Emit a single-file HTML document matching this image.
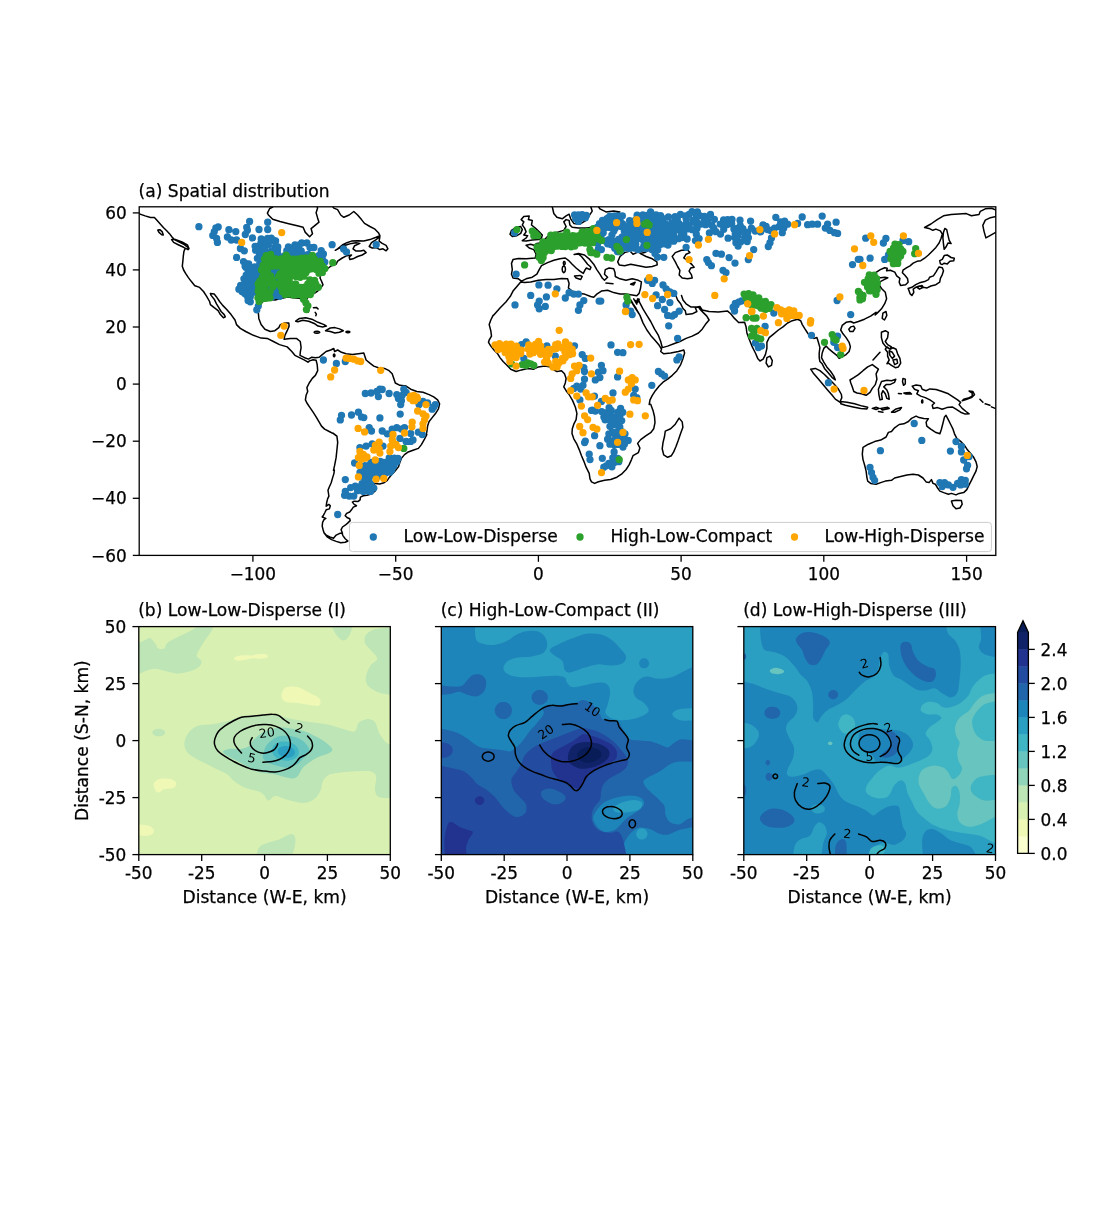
<!DOCTYPE html>
<html lang="en"><head><meta charset="utf-8"><title>Figure</title>
<style>html,body{margin:0;padding:0;background:#fff}svg{display:block}</style></head>
<body>
<svg width="1106" height="1229" viewBox="0 0 1106 1229" font-family='"DejaVu Sans", "Liberation Sans", sans-serif' fill="#000">
<rect width="1106" height="1229" fill="#fff"/>
<clipPath id="mc"><rect x="139.2" y="206.8" width="856.6" height="348.6"/></clipPath>
<g clip-path="url(#mc)">
<g fill="none" stroke="#000" stroke-width="1.5" stroke-linejoin="round" stroke-linecap="round">
<path d="M138.2,213.5L145.1,215.9L150.5,217.5L154.4,217.5L156.7,220.1L159.8,223.6L163.6,227.8L166.7,230.8L169.7,233.9L172,237L174.4,239.6L179.3,242L184.3,244.7L187.9,247.3L188.5,249.3L185.1,248.5L183.9,251.6L183.3,256.2L182.8,261.6L182.3,266.2L183.6,270L185.9,273.9L188.2,277.4L191,281.1L193.6,284.2L194.9,285.9M171.6,239.6L175.9,239.6L182,241.9L187.4,244.8L189,248.5L187.9,249.7L183.6,247.3L178.2,244.7L173.6,242.4ZM157.8,230.1L159.8,229.7L162.1,231.6L163.3,235L161.7,234.7L159,232.4ZM195,285.8L199.6,287.4L203.5,291.5L206.5,296.1L209.6,301.5L210.4,304.6L214.2,307.7L218.1,310.7L220.4,314.6L223.4,317.7L225.3,316.9L224.2,314.6L221.1,311.5L218.8,307.7L216.5,303.8L214.2,299.2L211.1,295.4L210.4,293.5L214.2,294.1L216.5,296.9L219.6,301.5L222.7,305.4L226.5,309.2L231.1,314.6L235,320L236.5,324.6L240.3,328.4L245.7,331.5L253.4,335.3L261.1,338.1L267.2,338.4L273.4,341.5L279.5,344.6L287.2,346.9L291.8,351.5L294.9,355.3L299.5,357.6L304.1,359.9L308,362.2M308,311.5L305.7,304.6L303.4,298.4L301.1,298.4L293.4,297.7L287.2,296.9L281.1,298.4L274.9,300L268.8,299.2L262.6,301.5L259.6,306.1L258.3,312.3L258.8,318.4L261.1,324.6L264.9,329.2L270.3,331.5L274.9,330.7L278.8,327.6L280.3,324.6L284.9,323L288.8,323L289.1,326.1L287.2,330.7L284.9,335.3L284.1,339.2L290.3,338.4L296.4,338.4L300.3,341.5L301.1,347.6L300.3,352.2L300,355.3M295.7,321.2L299.5,318.4L305.7,317.7L311.8,319.2L318,322.3L324.1,324.6L326.4,326.1L322.6,326.9L318,326.1L314.9,323.8L308.7,321.2L302.6,320.3L298,321.8ZM325.6,330.7L330.3,328L334.9,327.6L339.5,328.9L343.3,330.7L339.5,332.3L334.9,333L330.3,331.5ZM319.7,332.3L318.8,333L316.9,333.3L314.9,333L314.1,332.3L314.9,331.5L316.9,331.2L318.8,331.5ZM349.9,332L349.3,332.5L347.9,332.7L346.5,332.5L345.9,332L346.5,331.4L347.9,331.2L349.3,331.4ZM313.4,307.7L316.4,307.4L318,308.9M315.2,312.3L316.4,314.1L315.8,315.7M272.7,207L269.7,208.5L267.4,213.1L268.4,215L272.7,219.3L280,221.5L288.7,223.7L297.3,225.8L303.1,227.3L305.3,232.4L309.6,236.7L312.5,233.8L311.1,228.7L315.4,225.1L319,222.2L317.6,217.9L316.1,212.7L317.6,208.1L316.4,205M331.5,205L333.8,208.1L337.6,209.6L340.7,215L343.8,217.3L349.2,215L353.8,211.5L357.6,215L361.5,219.6L364.5,223.4L369.9,226.5L374.5,228.8L378.4,232.7L379.9,235.7L376.1,237.3L369.9,239.6L363.8,241.1L357.6,240.7L351.5,241.1L346.9,242.7L342.3,245L337.6,248.8L335.3,250.3L340.7,247.3L345.3,245.3L351.5,243.4L356.1,242.7L359.9,243.4L354.6,245.7L353,248.8L356.1,251.1L360.7,251.1L363.8,250.3L366.1,252.6L362.2,255L357.6,256.5L353,258.8L349.9,259.6L349.2,257.3L351.5,255L346.9,255.7L342.3,258L337.6,261.1L336.1,264.2L331.5,265.7L328.4,268L325.4,270.3L323,272.6L320.7,274.9L320,278L321.5,281.1L323,284.9L320.7,288L317.7,291.1L313.1,294.1L308.4,296.5L306.1,300.3L307.7,304.9L309.2,309.5L308.1,312.3M369.2,246.5L371.5,242.7L376.1,239.6L379.9,236.5L379.1,241.1L382.2,243.4L386.1,245.3L387.9,248.8L386.1,250.8L383,248.8L379.9,249.6L376.1,247.7L372.2,248ZM300,355.4L304.6,357.7L308.5,359.1L311.8,357.2L315.4,357.7L319.2,357.2L322.3,354.6L326.1,351.5L330.7,350L333.8,348.5L334.6,351.5L337.7,350L341.5,352.3L346.1,353.8L352.3,354.6L358.4,353.8L363.8,353.1L364.6,355.4L366.1,360L369.9,363.1L373.8,366.1L378.4,367.7L384.5,368.4L389.1,370.7L392.2,373.8L393.8,378.4L395.3,383L399.9,385.3L406.1,386.1L410.7,389.2L416.8,391.5L423,392.3L429.1,394.6L433.7,396.9L437.6,399.9L439.6,403.8L438.3,409.2L435.3,413.8L432.2,417.6L429.1,421.5L427.6,426.1L426.8,432.2L425.7,436.8M334.9,355.4L334.7,356.3L334.1,356.8L333.6,356.3L333.4,355.4L333.6,354.4L334.1,354L334.7,354.4ZM308,362.3L309.5,360.9L313.1,359.7L316.1,360.3L317.2,364.6L317.7,370.7L315.4,375.4L312.3,378.4L309.2,383L306.9,387.6L307.7,391.5L306.1,395.3L305.4,399.9L306.9,403L310,407.6L313.1,412.2L316.1,416.9L319.2,422.2L321.5,426.1L324.6,429.1L329.2,431.5L333.8,433.8L336.1,435.6M333,433.1L336.9,436.1L337.7,442.3L336.9,450L336.1,457.7L334.6,465.4L333.5,470.3M426.8,434.6L424.5,439.2L421.4,444.6L418.4,448.4L413.7,450L407.6,452.3L404.5,454.6L401.4,458.4L399.9,462.3L398.4,466.9L395.3,470.7M334.4,470L333.9,473.6L332.5,478.1L331.2,482.7L329.4,486.7L328,490.3L328.5,493.5L328.9,496.2L327.6,498.9L326.7,502.5L326.2,506.2L328.9,504.4L330.3,505.7L329.4,508.9L326.2,509.8L324.9,512.5L323.5,515.2L322.2,517L325.8,518.4L324,519.7L322.6,522.4L322.2,526.1L323.1,529.7L324,532.8L326.2,535.1L329.8,536.9L333.5,538.3L336.2,535.1L339.8,533.3L342.5,533.3L341.1,529.7L342.5,527L345.2,525.2L347.9,522.9L350.2,520.6L349.7,518.8L347,517.5L345.2,515.7L346.6,513.4L349.7,512L351.5,509.8L353.3,507.1L356.5,505.7L354.2,504.4L352.4,502.1L354.2,501.2L357.9,501.6L360.1,499.8L360.4,497.1L363.3,495.8L366.9,495.3L371.4,494L375,491.2L376.4,488.1L374.6,485.4L372.3,482.7L375,483.6L379.6,484L384.1,482.7L387.3,480.4L389.1,477.7L391.3,475L394,472.3L395.8,470M324,532.8L327.1,536.9L331.6,539.6L336.2,541.4L340.7,542.8L345.2,542.3L347.9,541L345.2,538.7L342.9,535.6L342,533.3M510,234.2L511.5,230.4L516.1,227.3L520.7,226.5L522.3,229.6L520.7,233.4L516.9,235.7L512.3,236.5ZM523.8,216.5L529.2,216.1L528.4,219.6L532.3,220.4L531.5,225L535.3,228.1L539.2,231.9L542.3,235L541.5,238L538.4,239.6L532.3,240L526.1,241.1L522.3,240.7L526.1,238L527.6,235.7L523.8,235L526.1,231.9L524.6,228.1L522.3,225L523.8,221.9L521.2,219.6ZM636.8,295.7L632.2,294.9L626,294.1L619.9,294.1L613.7,292.6L607.6,290.3L601.4,291.1L596.8,294.1L593.7,297.2L590.7,296.5L584.5,294.1L578.4,293.4L572.2,291.1L568.4,288L569.1,283.4L567.6,278.8L561.5,278.5L553.8,279.5L546.1,279.5L538.4,280.3L530.7,281.9L524.6,282.6L520.7,281.9L516.9,286.5L513,291.1L510.7,295.7L506.1,301.8L500,308L493.8,315.1M526.1,245.3L530.7,244.2L533.8,245.3L536.9,243.4L541.5,242.7L544.6,239.6L547.6,236.5L552.2,233.4L558.4,231.9L563.8,230.4L566.1,226.5L563.8,221.9L566.1,219.6L569.1,220.4L569.9,225L572.2,227.3L578.4,228.1L586.1,228.1L592.2,227.3L596.8,228.1L599.1,225L599.9,221.1L603,218.8L606,216.5L609.1,214.5L615.3,214.2L619.9,211.9L613.7,211.1L606,211.9L599.9,208.8L598.4,206.5M526.1,245.3L529.2,248L533.8,249.6L536.1,254.2L535.3,258L526.1,258.8L518.4,258.5L513,259.6L511.5,263.4L512.3,269.6L511.5,274.2L513,278L518.4,278.8L521.5,281.1L526.1,278.8L532.3,277.2L536.9,274.2L539.2,269.6L541.5,265.7L547.6,262.6L553.8,260.3L559.9,258.8L565.3,258L568.4,260.3L572.2,264.2L576.1,268L579.9,271.1L583.3,273.4L584.8,270.3L586.4,268L589.9,269.6L591,267.3L587.6,264.2L584.5,260.3L581.4,256.5L578.4,253.9L574.1,254.5L578.4,253.4L584.5,255L589.1,258.8L593.7,264.2L596.8,269.6L599.9,274.2L602.2,278L604.5,280.3L607.6,277.2L604.5,274.2L605.3,269.6L609.1,268L613.7,268.8L615,272.6L615.3,276.5L619.9,278.8L626,280.3L632.2,278.8L638.3,280.3L641.4,281.9L640.6,288L639.1,293.4L636.8,295.7M574.5,276L579.9,275.4L582.2,276.5L580.7,279.5L576.1,278ZM565.5,269.2L565,271.6L563.8,272.6L562.6,271.6L562.1,269.2L562.6,266.9L563.8,265.9L565,266.9ZM565.2,263.1L564.9,264.3L564.2,264.8L563.6,264.3L563.3,263.1L563.6,261.9L564.2,261.4L564.9,261.9ZM606,283.1L613,283.7M630.6,284.2L635.2,282.2L633.7,284.9ZM552.2,206.5L553.8,213.5L556.9,217.3L562.2,218.8L566.1,215.8L569.1,214.2L570.7,218.8L573.8,223.4L579.9,224.2L586.1,220.4L589.1,215.8L592.2,211.1L590.7,206.5M627.6,295.7L631.4,301.8L635.2,308L639.9,315.1M633.7,298.8L636.8,304.1L637.5,299.1M617.7,261.9L620,256.5L624.6,252.6L630,251.1L633,254.2L638.4,251.9L644.6,250.3L650,249.3L644.6,252.6L640,253.4L646.1,256.5L652.3,258.8L656.9,261.9L657.2,264.9L652.3,266.5L646.1,267.3L638.4,265.7L630.7,264.2L624.6,265.7L619.2,264.9ZM672.2,256.5L675.3,252.6L681.5,250.3L687.6,249.9L689.9,252.6L686.1,254.2L683.8,258L688.4,261.1L692.2,264.9L694.1,267.3L690.7,268L689.1,271.1L691.5,274.9L692.2,278L687.6,278.8L682.2,278L679.2,274.9L679.9,270.3L677.6,266.5L675.3,261.9ZM493.1,315.4L490.8,320L489.2,324.6L490.8,330.7L491.5,336.1L489.2,340L488.5,342.3L490.8,346.1L494.6,350.7L497.7,353.8L500,357.6L503.1,361.5L506.9,365.3L510.7,369.2L516.1,371.5L521.5,369.9L527.6,368.4L533.8,369.2L538.4,366.9L544.6,366.1L550.7,366.9L553.8,369.9L556.9,371.5L561.5,370.7L564.5,373.8L566.1,378.4L565.3,383L563.8,386.8L566.1,390.7L569.1,394.5L572.2,399.9M572.3,399.9L575.4,407.3L576.9,413.4L576.1,419.6L573.8,424.2L572.3,428.8L572,433.4L573.8,438.8L576.9,444.2L579.2,449.6L581.5,455.7L583.8,461.1L586.1,467.2L589.2,473.4L590,478.8L591.5,481.8L594.6,483.4L598.4,481.8L604.6,480.3L610.7,479.5L616.9,477.2L621.5,474.2L626.1,469.5L629.1,464.9L631.5,459.6L633,455.7L638.4,452.6L639.9,448L637.6,443.4L640.7,439.6L646.1,435.7L650.7,432.7L653.7,428.8L655,422.7L654.5,416.5L653,410.4L650.7,404.2M679.1,418.1L682.2,421.9L682.9,427.3L680.6,433.4L678.3,440.3L676,446.5L673.7,451.9L671.4,455.7L667.6,457.3L663.7,454.9L662.2,448.8L663,442.6L664.5,436.5L665.3,431.1L670.6,428.8L675.3,424.2ZM630.8,300L633.1,303.8L636.1,308.5L640,315.4L643.1,323.1L646.9,330L650.7,335.4L655.4,340.7L659.2,345.3L661.5,349.2L660.7,351.5L663.8,353.8L670.7,353L678.4,351.5L683.8,350L684.6,353L683,358.4L680.7,364.6L676.9,370.7L672.3,375.3L667.6,379.2L663,382.2L659.2,386.1L655.4,390.7L652.3,395.3L650,399.9L649.2,404.5M634.6,300L637.7,302.3L639.2,299.2M638.1,298.8L640,303.1L643.1,309.2L646.9,315.4L650.7,321.5L654.6,329.2L658.4,335.4L660.7,341.5L662.3,347.6L667.6,346.1L673.8,343.8L679.9,341.5L686.1,338.4L692.2,336.1L698.4,333L702.2,329.2L705.3,324.6L709.1,320L706.8,316.1L703.8,313.1L699.9,309.2L698.4,306.9L695.3,307.7L696.9,311.5L692.2,313.8L686.1,314.6L685.3,310.8L683,308.5L680.7,303.8L677.6,300L676.1,296.2L673,293.9L670,294.6M681.5,295.4L683,300L686.1,303.8L690.7,306.9L696.9,306.9L699.9,306.5L702.2,310L709.1,311.5L718.4,312L727.6,311.1L730.7,313.8L734.5,318.4L738.4,322.3M738.5,322.6L744.6,322.3L746.1,326.9L746.9,333L749.2,339.2L752.3,346.9L755.4,353L757.7,358.4L760,361L763.1,359.2L765.4,354.6L766.9,348.4L766.9,342.3L769.2,337.6L773.8,333.8L778.4,330L783,326.9L787.6,323L792.3,320.7L797.6,319.2L800.7,320.7L802.3,324.6L804.6,328.4L807.6,333L809.9,336.1L813.8,338.4L816.9,337.6L818.4,342.3L819.9,347.6L819.2,353L819.2,357.6L819.9,361.5L822.2,363.8L824.5,368.4L828.4,373L832.2,377.6L835.3,379.9L833.8,376.1L830.7,371.5L826.8,366.9L823.8,362.2L821.5,357.6L822.2,353L823.8,348.4L826.1,346.1L829.1,349.2L833,352.3L836.8,355.3L839.1,358.4L842.2,356.9L846.1,354.6L849.1,351.5L850.4,346.9L849.1,342.3L846.1,337.6L843,333.8L840.7,330L842.2,325.4L846.1,322.3L850.7,321.5L853.7,323L858.4,321.5L864.5,319.2L870.6,316.1L876,312.3M766.9,357.6L770,356.1L772.3,360.7L771.5,365.3L768.4,366.9L766.1,363ZM810.7,369.2L815.3,368.4L819.9,370.7L824.5,374.5L829.1,379.1L833.8,383.8L838.4,389.1L841.4,394.5L841.8,397.6L839.9,402.2L835.3,399.1L832.2,395.3L827.6,389.9L823,384.5L818.4,379.1L813.8,373.8ZM850.7,326.9L853.7,326.1L855,328.4L853,331.5L849.9,331.5L848.8,329.2ZM882.9,313.1L886,311.5L886.8,315.4L884.5,320L882.2,318.4ZM924.6,227.5L930.9,224L937.2,219.6L943.5,215.8L951.1,214.5L958.7,214.1L966.3,213.6L971.4,215.8L979,214.5L980.3,211.3L985.3,208.8L991.6,208.2L996.1,210.1L996.1,216.4L990.4,217.7L985.3,220.2L982.8,225.3L984.1,231.6L985.9,237.9L990.4,235.4L996.1,232.2M924.6,227.5L929,228.4L932.8,230.3L935.9,229.1L940.4,230.9L942.3,234.1L941,238.5L939.1,243L935.9,247.4L932.2,251.2L928.4,255L924.6,258.2L920.8,260.7L917,261.3L913.2,263.2L910,265.8L906.8,267.7L903,270.2L902.4,272.7L904.9,275.3L907.5,278.4L908.1,282.2L905.6,284.7L900.5,285.4L899.2,282.2L899.9,278.4L896.7,275.9L894.8,272.1L890.4,270.2L886.6,270.8L887.2,268.3L884.7,267.7L880.3,269.6L876.5,272.1L874.6,273.4L876.5,275.9L880.3,277.8L884.7,277.2L887.8,277.8L884.1,279.7L880.3,281.6L879,284.7L881.5,288.5L885.3,292.3L886.6,298.7L884.7,303.7L881.5,308.8L877.7,312.6L875.2,315M944.8,228.4L946.7,229.7L948,235.4L949.2,240.4L951.1,243.6L948,243L946.1,246.8L944.2,249.3L943.5,244.2L942.9,237.9L943.5,232.2ZM939.7,260.7L942.3,259.4L944.2,255.6L947.3,255L951.1,257.5L954.3,258.2L953.7,260.7L949.9,261.3L947.3,263.9L944.2,263.2L942.3,264.5L940.4,263.9ZM939.1,267L942.3,267.7L943.5,270.8L942.3,274.6L940.4,278.4L939.7,282.2L935.9,284.7L930.9,286L927.1,287.9L923.3,287.3L919.5,286L915.7,287.3L913.2,289.2L913.8,292.3L911.9,295.5L910,293.6L908.7,289.8L908.1,288.5L911.9,287.3L915.7,284.7L919.5,282.8L924.6,281.6L928.4,279.7L929.6,277.2L933.4,275.9L935.9,272.1L937.8,268.9ZM917,287.3L922,285.4L923.3,287.3L919.5,289.2ZM850,380L853.8,377.7L858.4,374.6L863,370.7L867.7,366.9L872.3,364.6L875.3,366.9L878.4,369.2L876.1,373.8L876.9,379.2L875.3,384.6L872.3,388.4L870,392.3L866.1,395.3L861.5,393.8L856.9,393L853.8,391.5L852.3,386.9L850.8,383ZM881.5,381.5L886.9,380.3L891.5,380.7L895.8,379.2L894.6,382.3L889.9,384.6L886.1,384.6L883.8,386.9L886.9,390L888.4,393.8L889.2,399.2L886.9,398.4L885.3,393.8L883,390.7L881.5,393.8L882.3,399.2L880,399.9L878.9,394.6L878.4,389.2L880,385.3ZM886.9,346.9L889.9,349.2L893,347.7L896.1,349.2L897.6,353.8L899.9,358.4L900.7,363.1L898.4,366.9L895.3,367.7L891.5,365.4L888.4,363.1L886.9,363.8L889.2,360L887.6,356.1L887.6,352.3L885.3,349.2ZM889.2,350.8L892.3,352.3L894.6,356.1L892.3,358.4L889.9,355.4ZM893,360L896.9,359.2L897.6,363.1L894.6,364.6ZM873,360L880,352.3M840.8,401.5L846.9,402.3L854.6,403.8L862.3,406.1L867.7,407.3L866.9,408.9L860.7,408.4L853.1,406.9L845.4,405.3L840.8,403.8ZM872.3,408.4L876.1,407.3L879.2,408.4L876.1,409.5ZM880.7,408.4L887.6,407.3L889.2,408.4L882.3,409.9ZM878.4,411.5L883,412.2M891.5,412.2L896.1,408.9L901.5,407.6L899.9,409.9L894.6,412.2ZM903,378.4L905.3,379.2L905.3,383.8L903.5,385.3L902.5,381.5ZM898.4,393.5L901.5,393.8M903.8,393L909.9,392.6L911.5,394.1L906.1,394.1ZM922.8,401.5L922.7,402.6L922.2,403L921.8,402.6L921.6,401.5L921.8,400.4L922.2,399.9L922.7,400.4ZM912.2,386.1L916.1,385L920.7,385.8L922.2,389.2L926.1,390.7L929.9,388.9L936.1,389.5L942.2,391.5L948.4,393.8L953,396.9L957.6,399.9L960.6,402.3L959.1,404.6L962.2,408.4L966,411.5L969.1,413.8L965.3,414.1L960.6,412.2L956,409.2L952.2,406.9L946.8,407.6L942.2,409.2L937.6,407.6L933,408.4L932.2,405.3L934.5,403L929.9,399.9L925.3,397.6L920.7,396.1L916.8,393.8L918.4,390.7L914.5,389.2ZM962.2,400.7L966.8,399.2L971.4,397.6L974.5,394.6L972.9,391.5L969.1,391L972.2,393L972.2,396.1L968.3,398.1L963.7,399.2ZM979.9,399.2L982.9,402.3M985.2,403.8L989.9,405.3M991.4,406.9L995.2,408.4M863,447.3L868.4,444.2L874.6,441.6L880.7,440.1L886.1,437L888.4,432.4L891.5,431.5L894.6,427.8L899.2,424.5L903.8,423.8L908.4,421.5L911.5,418.4L916.1,416.1L919.1,417.6L923.8,418.4L928.4,418.7L926.1,422.2L926.8,426.1L930.7,429.2L935.3,432.2L939.9,433.8L941.4,429.2L943,423L944.5,416.9L946,415.3L948.4,419.9L950.7,424.5L953,429.2L954.5,433.8L956.8,438.4L960.6,441.4L964.5,445.3L967.6,450.1L970.6,453.4L973.7,457.3L976,461.9L977.2,466.5L976,471.1L973.7,475.7L971.4,480.3L969.1,484.9L966.8,489.6L963.7,492.6L959.1,493.4L956,494.9L951.4,493.4L948.4,494.2L943.7,492.6L939.9,491.1L937.6,488L935.3,484.2L933,483.4L931.4,479.6L929.1,482.6L926.1,481.9L923,478L918.4,475L913,474.2L906.9,475L900.7,476.5L894.6,478L891.5,480.3L885.3,481.1L880.7,482.6L876.1,484.2L870.7,483.4L867.7,481.1L866.9,477.3L866.1,471.1L864.6,465L863,459.6L862.3,454.2ZM951.4,501.1L956,500.3L961.4,500.6L962.2,504.2L959.9,508L956,508.8L953,505.7ZM881.4,332.3L885.3,330.7L888.3,332.3L887.6,337.6L885.3,341.5L887.6,344.6L891.4,346.9L889.9,349.2L886,346.9L882.9,343L881.4,337.6Z"/>
</g>
<path d="M198.9,226.7h0M215.9,227.8h0M218.2,227.0h0M214.3,231.6h0M212.8,235.4h0M216.6,238.5h0M217.4,242.4h0M228.9,229.7h0M235.8,231.6h0M227.4,237.0h0M231.2,240.0h0M236.6,240.0h0M240.4,248.5h0M244.3,250.8h0M236.6,257.4h0M243.5,261.6h0M245.1,266.2h0M238.9,289.2h0M242.0,291.5h0M245.1,293.8h0M249.6,221.5h0M246.7,227.3h0M247.4,230.2h0M245.3,234.5h0M252.5,237.9h0M259.0,229.5h0M267.7,222.2h0M267.7,229.5h0M261.2,238.9h0M271.3,238.1h0M275.6,241.0h0M332.1,244.7h0M343.6,249.0h0M346.5,251.9h0M376.2,244.7h0M256.8,309.8h0M258.3,306.1h0M250.3,301.8h0M249.6,298.9h0M267.6,238.4h0M261.1,242.6h0M266.3,243.0h0M272.5,240.6h0M275.4,241.0h0M301.7,242.9h0M306.9,243.0h0M255.1,246.3h0M259.5,245.3h0M264.9,246.3h0M268.3,244.9h0M274.9,247.5h0M277.8,246.9h0M288.4,246.8h0M295.0,244.8h0M299.3,244.8h0M310.0,247.4h0M313.9,247.5h0M255.6,250.2h0M261.7,249.5h0M265.2,251.4h0M270.9,251.7h0M277.5,250.1h0M286.8,250.7h0M291.6,250.7h0M297.7,250.4h0M301.2,251.0h0M321.2,250.6h0M259.3,253.5h0M264.3,254.6h0M274.5,255.4h0M277.6,253.5h0M284.4,256.0h0M288.2,254.6h0M294.2,254.2h0M298.6,254.2h0M303.6,255.0h0M308.4,254.4h0M319.1,255.4h0M323.4,254.0h0M257.3,258.3h0M260.6,258.9h0M277.4,258.9h0M282.4,258.1h0M295.7,258.0h0M301.5,258.2h0M317.3,259.5h0M322.3,258.6h0M259.8,262.8h0M324.8,262.1h0M244.9,262.8h0M248.7,263.8h0M274.3,264.0h0M282.3,263.4h0M245.7,267.3h0M250.3,267.2h0M254.8,266.9h0M259.8,266.6h0M263.1,266.6h0M267.6,266.8h0M271.4,267.5h0M275.5,267.2h0M280.7,266.5h0M248.1,270.5h0M252.2,270.7h0M256.2,271.1h0M261.8,271.5h0M265.7,271.5h0M268.7,270.4h0M274.5,271.2h0M277.8,271.5h0M282.3,271.3h0M246.2,275.1h0M250.3,273.6h0M254.1,273.9h0M259.5,274.2h0M262.9,273.8h0M268.2,274.3h0M271.2,273.7h0M275.1,273.9h0M280.3,273.8h0M243.9,278.8h0M247.9,278.1h0M253.2,277.9h0M257.7,278.0h0M260.7,277.9h0M264.6,277.9h0M269.1,278.7h0M274.2,278.0h0M277.2,277.6h0M281.7,277.6h0M247.1,281.8h0M251.4,281.5h0M255.5,281.9h0M259.5,282.1h0M263.2,281.0h0M267.0,282.3h0M272.3,282.3h0M275.6,281.9h0M280.5,281.9h0M240.6,285.4h0M244.6,285.6h0M248.1,286.0h0M253.4,284.6h0M257.7,286.0h0M261.4,284.6h0M266.0,284.7h0M270.3,285.6h0M273.0,284.8h0M278.1,285.4h0M282.5,286.0h0M242.9,288.2h0M247.0,288.3h0M251.1,289.4h0M255.4,289.0h0M259.6,288.5h0M263.5,288.7h0M268.0,289.4h0M271.6,289.0h0M275.1,288.2h0M280.2,288.9h0M243.7,292.4h0M248.9,292.6h0M251.9,293.1h0M257.4,291.9h0M261.2,292.4h0M265.8,292.3h0M269.1,292.6h0M274.5,291.9h0M277.3,292.8h0M282.7,292.6h0M247.0,295.7h0M250.3,296.8h0M267.4,296.0h0M271.7,296.9h0M276.2,295.4h0M279.7,296.3h0M248.1,300.4h0M323.4,360.0h0M336.4,363.4h0M345.3,361.5h0M365.3,393.5h0M371.0,393.0h0M376.9,391.5h0M379.9,389.2h0M382.2,389.5h0M378.4,396.6h0M389.1,393.5h0M396.8,394.6h0M398.4,398.4h0M401.4,400.7h0M400.7,404.6h0M403.8,389.2h0M406.1,392.3h0M402.2,395.3h0M341.5,415.3h0M340.3,419.9h0M351.5,415.0h0M358.4,412.2h0M361.5,416.9h0M363.8,417.6h0M379.9,417.9h0M400.2,414.1h0M369.2,427.6h0M371.5,431.0h0M382.2,431.0h0M387.3,433.8h0M392.2,429.1h0M396.8,427.6h0M401.4,429.1h0M404.5,427.6h0M410.7,433.5h0M418.4,432.2h0M422.2,434.5h0M423.0,401.5h0M427.6,403.0h0M419.1,404.6h0M432.2,409.2h0M435.3,404.6h0M433.7,406.9h0M399.9,438.4h0M406.1,441.4h0M410.7,441.4h0M366.1,446.1h0M372.2,443.8h0M383.0,446.1h0M359.9,447.6h0M389.2,457.8h0M394.4,458.1h0M398.0,458.4h0M371.0,462.5h0M375.6,461.5h0M380.2,461.3h0M383.5,462.3h0M387.3,461.8h0M391.3,462.1h0M396.6,462.0h0M365.0,465.7h0M369.0,465.4h0M373.7,466.2h0M377.3,465.8h0M380.8,465.8h0M385.9,466.3h0M390.4,465.2h0M393.9,465.8h0M361.9,469.6h0M366.2,468.7h0M370.8,469.7h0M374.5,469.1h0M379.5,469.8h0M384.1,469.7h0M387.5,469.0h0M391.8,469.8h0M360.0,472.3h0M364.3,472.8h0M369.1,472.4h0M372.3,472.6h0M377.1,472.9h0M382.2,473.1h0M385.7,473.0h0M390.2,472.1h0M362.0,476.6h0M366.1,475.7h0M370.5,475.9h0M375.0,475.7h0M378.6,475.9h0M365.3,480.8h0M368.9,480.0h0M362.2,483.5h0M366.3,484.1h0M371.1,484.1h0M359.8,487.0h0M364.3,487.6h0M369.6,487.2h0M373.8,488.1h0M363.3,491.4h0M367.2,490.9h0M370.5,491.4h0M345.3,479.6h0M354.6,463.0h0M337.7,514.5h0M350.7,487.6h0M355.3,486.1h0M345.3,491.5h0M344.6,495.3h0M349.2,496.1h0M353.8,496.1h0M357.6,490.7h0M413.0,440.0h0M574.6,214.9h0M578.6,215.0h0M582.2,214.7h0M586.4,215.4h0M575.7,218.7h0M580.4,218.3h0M585.4,217.7h0M578.5,221.4h0M516.1,274.2h0M598.4,248.8h0M601.4,249.6h0M538.9,284.9h0M548.1,285.2h0M556.9,288.8h0M530.7,295.4h0M546.4,296.9h0M515.0,304.9h0M539.2,301.1h0M537.6,304.9h0M545.3,306.4h0M539.2,308.8h0M569.1,292.6h0M565.3,298.0h0M573.8,294.1h0M578.4,294.1h0M583.8,300.6h0M579.9,304.9h0M578.4,310.3h0M599.1,301.1h0M514.6,232.7h0M650.6,211.8h0M609.8,216.1h0M615.0,215.8h0M618.7,216.0h0M622.4,215.8h0M637.1,215.2h0M642.8,215.0h0M646.4,215.3h0M651.4,214.6h0M656.1,215.0h0M660.6,215.7h0M602.5,220.3h0M606.9,218.6h0M611.1,220.4h0M617.1,220.3h0M620.2,220.4h0M629.6,220.7h0M635.6,220.0h0M639.4,219.8h0M645.1,219.7h0M649.4,220.1h0M654.1,218.9h0M658.5,219.9h0M663.1,218.7h0M599.5,223.7h0M602.9,223.5h0M608.5,222.6h0M612.4,224.9h0M617.5,223.1h0M622.7,223.9h0M632.6,224.5h0M636.4,223.2h0M642.5,224.8h0M647.4,223.6h0M652.6,223.1h0M655.7,223.6h0M662.8,224.2h0M665.9,224.1h0M672.2,223.0h0M597.2,227.4h0M601.1,227.2h0M605.8,227.4h0M610.1,227.5h0M615.1,228.4h0M621.2,226.5h0M626.4,227.0h0M630.5,227.9h0M634.9,227.2h0M640.0,226.8h0M645.9,226.8h0M650.6,227.0h0M654.0,227.5h0M658.1,226.8h0M663.8,227.6h0M669.9,229.0h0M598.1,232.0h0M603.2,232.7h0M613.8,231.0h0M624.3,231.0h0M628.1,231.6h0M632.5,232.7h0M637.0,232.5h0M643.0,233.1h0M647.4,233.0h0M652.0,232.1h0M657.2,232.8h0M662.8,230.9h0M665.6,232.0h0M672.1,232.0h0M601.2,235.0h0M611.9,235.1h0M622.2,236.9h0M625.5,236.4h0M631.4,236.7h0M634.8,236.8h0M639.1,235.6h0M646.2,236.0h0M649.1,236.8h0M654.4,234.8h0M658.1,235.5h0M663.7,237.2h0M668.3,237.0h0M600.2,240.0h0M605.4,240.9h0M608.9,239.6h0M613.6,241.3h0M618.6,239.4h0M623.0,240.2h0M627.3,240.4h0M631.7,241.1h0M636.9,239.2h0M642.8,239.7h0M648.3,240.2h0M652.2,241.1h0M656.2,240.9h0M662.1,240.1h0M667.7,239.0h0M597.8,243.5h0M607.6,243.8h0M611.3,244.7h0M615.5,244.5h0M619.7,244.3h0M626.4,244.0h0M629.8,243.2h0M635.8,244.2h0M643.9,245.5h0M650.8,245.2h0M655.4,244.9h0M659.9,244.8h0M664.4,243.8h0M668.0,245.0h0M614.7,248.3h0M619.3,248.6h0M623.5,248.3h0M629.3,248.4h0M634.1,248.1h0M638.2,249.6h0M643.0,248.2h0M646.2,248.5h0M651.9,249.4h0M657.7,249.8h0M617.4,251.6h0M619.9,251.8h0M655.0,253.5h0M657.5,257.1h0M692.0,211.7h0M697.4,212.0h0M675.1,216.7h0M680.5,214.4h0M685.3,216.0h0M689.1,214.3h0M696.3,215.6h0M699.4,215.4h0M704.5,216.5h0M710.5,214.4h0M677.3,219.2h0M686.2,218.9h0M693.3,220.2h0M696.3,220.6h0M704.2,219.8h0M707.5,220.2h0M714.4,219.3h0M723.6,219.9h0M727.6,219.6h0M732.0,219.4h0M740.0,220.2h0M673.4,223.3h0M679.0,223.6h0M686.1,223.7h0M689.3,224.7h0M696.4,223.8h0M701.1,224.0h0M705.6,224.7h0M711.8,225.2h0M720.3,224.1h0M727.2,224.5h0M731.7,223.8h0M740.3,225.7h0M676.4,229.4h0M681.4,228.1h0M687.4,228.9h0M692.3,229.7h0M697.0,228.4h0M713.7,227.8h0M723.7,229.3h0M733.9,229.0h0M737.2,228.5h0M742.9,228.7h0M673.5,233.8h0M681.2,233.4h0M683.8,234.3h0M696.3,234.2h0M709.4,232.9h0M715.9,231.7h0M720.5,234.1h0M735.2,233.8h0M741.5,231.7h0M747.7,232.4h0M673.7,238.9h0M678.5,238.7h0M682.1,237.5h0M687.1,239.0h0M699.1,238.6h0M728.1,238.2h0M734.8,237.4h0M737.6,236.2h0M744.7,237.6h0M748.4,237.7h0M673.7,241.2h0M695.4,240.6h0M735.9,242.8h0M740.6,242.1h0M747.2,241.5h0M738.1,246.0h0M750.6,221.1h0M751.4,228.1h0M755.2,231.1h0M762.9,225.8h0M767.5,229.6h0M768.3,246.5h0M753.7,249.6h0M748.3,259.6h0M663.8,257.3h0M686.1,247.3h0M716.0,253.4h0M721.4,254.2h0M729.1,257.6h0M735.0,263.1h0M706.8,259.6h0M708.4,262.6h0M711.4,265.7h0M723.0,270.3h0M726.0,272.6h0M654.6,280.3h0M647.6,280.3h0M652.3,283.4h0M663.0,284.9h0M666.1,288.8h0M669.9,291.8h0M673.8,293.4h0M656.1,294.9h0M662.3,299.5h0M669.9,302.6h0M657.6,305.7h0M664.6,309.5h0M679.2,311.1h0M600.8,301.1h0M626.1,304.9h0M630.7,311.1h0M735.3,303.4h0M739.1,301.8h0M734.5,310.3h0M741.4,301.1h0M612.3,216.5h0M668.4,217.0h0M632.2,314.6h0M521.5,344.6h0M526.1,341.8h0M546.9,345.8h0M574.5,345.8h0M523.8,358.4h0M555.3,356.1h0M582.2,354.6h0M585.3,358.4h0M611.0,344.9h0M617.6,352.3h0M622.9,352.7h0M601.4,365.3h0M603.0,370.7h0M598.4,372.2h0M599.9,377.6h0M595.3,379.9h0M584.5,371.5h0M583.8,367.6h0M584.5,379.2h0M583.0,385.3h0M576.8,386.1h0M573.8,388.4h0M580.7,389.1h0M617.6,376.9h0M613.0,393.0h0M635.2,389.1h0M633.7,395.3h0M636.8,397.6h0M594.5,396.1h0M579.9,399.9h0M601.4,401.4h0M609.1,407.6h0M620.6,408.4h0M592.2,410.1h0M667.6,315.4h0M672.3,316.1h0M674.6,314.6h0M668.7,325.8h0M677.6,338.4h0M676.9,359.9h0M679.2,356.9h0M658.4,371.5h0M661.5,373.8h0M664.6,376.1h0M651.8,385.3h0M601.7,411.6h0M606.4,412.6h0M611.2,410.5h0M617.9,412.2h0M622.8,412.3h0M603.9,417.0h0M608.4,415.2h0M614.2,417.2h0M619.9,416.3h0M605.1,419.8h0M610.2,420.3h0M617.2,422.1h0M621.7,420.6h0M609.9,426.3h0M615.4,424.8h0M619.8,427.0h0M612.3,431.8h0M617.9,431.7h0M622.4,431.8h0M608.9,433.9h0M615.7,436.3h0M618.7,433.6h0M625.0,433.8h0M607.6,439.2h0M611.2,440.7h0M618.0,440.7h0M622.9,439.1h0M628.2,440.5h0M609.9,444.2h0M614.5,445.1h0M618.4,444.4h0M624.4,444.2h0M623.0,447.0h0M614.1,451.9h0M612.8,457.8h0M617.8,458.3h0M608.8,463.4h0M614.2,462.5h0M618.8,461.7h0M606.2,465.8h0M611.9,466.8h0M591.5,410.4h0M595.3,411.1h0M594.6,435.7h0M585.3,441.1h0M584.6,442.6h0M599.9,445.7h0M589.2,454.2h0M590.0,459.6h0M602.3,458.3h0M603.8,467.2h0M775.8,217.3h0M780.7,221.9h0M784.6,221.1h0M787.6,224.2h0M783.8,228.1h0M782.3,232.7h0M779.2,226.5h0M774.6,228.1h0M770.7,230.4h0M771.5,238.0h0M770.0,242.7h0M763.0,225.0h0M766.1,226.5h0M760.7,231.9h0M802.2,217.0h0M822.2,216.1h0M807.6,224.7h0M812.2,224.2h0M817.6,224.2h0M827.6,224.2h0M836.1,222.2h0M825.3,228.1h0M829.9,230.4h0M834.5,232.7h0M837.6,233.4h0M797.6,223.4h0M858.3,259.3h0M852.5,264.6h0M734.6,311.1h0M736.1,304.9h0M739.2,301.8h0M733.1,307.2h0M865.7,238.2h0M885.9,238.5h0M883.4,243.0h0M870.1,258.2h0M884.7,259.4h0M860.0,259.4h0M903.0,240.4h0M908.7,241.7h0M888.5,255.0h0M741.5,300.8h0M773.8,313.1h0M765.1,326.4h0M755.4,343.0h0M758.4,347.6h0M761.5,346.1h0M811.5,335.3h0M837.1,300.5h0M850.7,314.6h0M837.6,336.1h0M833.8,342.3h0M837.6,347.6h0M828.4,382.7h0M880.4,450.7h0M921.8,440.4h0M914.2,423.5h0M956.0,441.6h0M961.4,446.5h0M961.4,451.9h0M950.4,451.1h0M963.7,460.0h0M967.6,465.3h0M966.5,468.8h0M969.1,456.5h0M870.0,467.3h0M871.5,472.6h0M873.0,477.3h0M874.6,480.3h0M939.9,482.6h0M944.5,482.6h0M942.2,486.5h0M948.4,484.9h0M953.0,487.3h0M957.6,483.4h0M961.4,479.6h0M965.3,480.3h0M965.3,484.2h0M960.6,484.9h0" fill="none" stroke="#1f77b4" stroke-width="7.3" stroke-linecap="round"/>
<path d="M266.2,255.6h0M270.7,254.5h0M286.1,255.1h0M312.5,255.4h0M264.5,259.1h0M267.7,258.2h0M272.2,258.9h0M275.8,258.8h0M281.1,259.0h0M284.0,259.2h0M288.3,258.2h0M293.4,259.1h0M297.1,259.1h0M301.7,258.1h0M305.5,257.9h0M309.3,257.9h0M314.5,259.2h0M265.8,262.0h0M269.4,262.7h0M273.5,262.1h0M279.0,261.5h0M283.1,262.8h0M287.1,262.5h0M290.5,262.0h0M294.7,262.6h0M299.2,262.0h0M304.5,262.6h0M308.6,262.0h0M312.1,262.4h0M316.2,261.7h0M320.3,261.5h0M263.1,265.4h0M268.4,266.3h0M272.0,266.2h0M276.8,266.0h0M280.8,266.1h0M284.6,266.0h0M288.6,265.7h0M293.6,266.0h0M297.0,266.4h0M301.8,265.8h0M305.0,265.8h0M309.6,266.0h0M314.1,266.2h0M318.6,266.2h0M322.3,265.9h0M261.4,269.9h0M266.5,269.7h0M283.4,269.3h0M287.2,269.7h0M291.4,268.8h0M295.7,269.5h0M299.7,269.2h0M303.9,269.8h0M308.1,269.7h0M311.3,268.8h0M316.2,269.6h0M320.0,269.6h0M324.9,268.6h0M263.5,272.5h0M267.5,272.2h0M280.2,273.6h0M284.0,272.8h0M288.6,272.8h0M292.6,273.5h0M297.2,272.2h0M301.8,272.3h0M305.9,272.7h0M318.9,273.2h0M322.4,272.4h0M262.4,277.4h0M266.1,276.4h0M270.7,275.8h0M278.7,276.1h0M282.9,277.3h0M286.7,276.5h0M290.6,276.3h0M296.0,276.4h0M300.2,277.3h0M303.8,276.2h0M260.0,280.8h0M263.0,280.3h0M267.6,281.0h0M272.6,279.9h0M281.4,279.9h0M285.0,280.2h0M289.2,280.4h0M309.9,280.0h0M314.6,280.4h0M258.1,284.0h0M260.9,284.3h0M265.8,284.0h0M270.4,284.1h0M274.3,284.6h0M278.3,283.7h0M283.2,283.4h0M286.6,284.4h0M290.4,284.4h0M295.6,283.8h0M307.8,284.0h0M312.1,283.6h0M315.7,284.0h0M258.8,287.9h0M264.5,288.3h0M272.7,287.1h0M280.9,287.0h0M284.4,288.2h0M288.4,287.7h0M293.0,287.0h0M297.6,286.8h0M301.0,287.3h0M305.1,286.8h0M310.1,287.9h0M314.8,287.0h0M318.3,287.2h0M258.2,291.0h0M261.0,291.5h0M265.3,291.4h0M270.1,291.8h0M282.3,291.6h0M286.9,290.6h0M290.7,291.0h0M295.7,290.7h0M299.8,291.4h0M303.0,291.4h0M307.2,290.6h0M312.2,290.8h0M260.3,295.1h0M263.3,294.2h0M268.7,295.1h0M285.0,294.6h0M288.8,294.2h0M293.7,295.0h0M297.9,294.7h0M302.1,294.8h0M305.9,294.9h0M310.4,294.6h0M257.9,297.7h0M261.6,299.1h0M266.1,298.3h0M270.0,297.8h0M303.5,299.2h0M259.1,301.4h0M305.9,302.9h0M307.9,305.8h0M306.4,309.6h0M332.8,262.7h0M403.8,448.4h0M593.3,228.6h0M566.8,232.2h0M582.2,231.9h0M587.5,231.3h0M590.6,231.4h0M596.2,232.1h0M550.8,235.2h0M555.1,235.0h0M560.5,235.8h0M563.7,235.9h0M567.7,235.2h0M572.9,235.6h0M575.9,236.1h0M580.3,234.9h0M585.4,235.1h0M588.8,234.6h0M592.7,235.5h0M597.2,235.5h0M549.9,239.5h0M553.1,238.5h0M558.0,239.7h0M561.4,239.7h0M566.7,239.1h0M570.1,238.3h0M573.7,239.7h0M578.2,239.3h0M582.5,239.5h0M587.2,238.6h0M590.7,239.3h0M594.8,238.5h0M599.8,239.5h0M542.9,241.9h0M546.6,242.4h0M551.5,242.0h0M555.3,243.2h0M560.5,242.9h0M564.3,242.7h0M567.6,241.9h0M571.6,243.3h0M576.9,243.3h0M580.0,242.8h0M584.9,243.0h0M588.9,243.4h0M592.7,242.7h0M537.1,246.9h0M540.6,246.5h0M545.7,246.8h0M549.1,246.7h0M554.0,246.4h0M557.9,246.1h0M562.0,246.4h0M565.4,246.5h0M571.1,246.8h0M574.8,246.1h0M538.4,250.2h0M542.5,249.4h0M547.8,250.1h0M551.3,250.5h0M541.6,253.4h0M544.4,252.8h0M539.1,257.2h0M543.1,257.6h0M541.4,260.5h0M524.6,264.9h0M532.3,231.1h0M535.3,233.4h0M537.6,235.7h0M533.8,235.7h0M516.9,229.6h0M589.9,249.6h0M593.0,252.6h0M590.7,252.6h0M596.8,254.2h0M644.6,224.2h0M649.2,225.0h0M646.9,222.7h0M626.4,239.6h0M619.2,248.8h0M616.9,246.5h0M620.0,251.1h0M646.9,245.3h0M606.9,257.3h0M611.5,258.0h0M601.5,240.4h0M626.9,297.2h0M627.7,301.1h0M511.5,363.8h0M522.3,364.6h0M526.1,365.3h0M530.7,363.8h0M533.8,365.3h0M527.6,363.0h0M619.2,459.6h0M895.0,244.1h0M899.0,244.6h0M893.4,248.2h0M896.4,248.1h0M900.9,249.1h0M890.1,251.5h0M894.9,252.1h0M899.7,252.5h0M902.9,251.5h0M891.9,256.0h0M897.5,255.9h0M900.6,256.1h0M890.9,258.8h0M895.0,258.8h0M898.2,259.0h0M893.4,263.7h0M897.7,263.4h0M915.7,248.7h0M914.7,253.7h0M869.3,274.9h0M874.1,275.1h0M868.1,278.9h0M870.9,278.8h0M876.5,278.7h0M864.5,282.3h0M869.2,282.5h0M873.4,283.7h0M877.3,283.5h0M867.5,287.1h0M871.7,286.2h0M875.5,286.2h0M869.4,290.8h0M873.6,290.6h0M877.2,289.6h0M860.0,293.6h0M862.5,298.7h0M860.0,299.9h0M744.1,294.1h0M748.6,293.7h0M753.0,294.8h0M745.9,297.8h0M750.3,297.7h0M754.1,298.1h0M758.8,297.9h0M748.0,301.4h0M752.1,301.3h0M756.5,301.2h0M761.5,301.6h0M765.4,301.5h0M751.3,304.5h0M755.0,305.2h0M758.8,305.9h0M763.6,304.8h0M767.5,305.5h0M771.0,304.7h0M761.2,308.2h0M765.2,309.4h0M769.3,308.3h0M746.1,317.7h0M753.1,318.0h0M756.1,318.0h0M751.5,328.4h0M756.9,328.4h0M753.8,333.0h0M751.5,336.1h0M756.9,337.6h0M760.8,338.9h0M754.6,330.7h0M859.9,297.7h0M863.0,295.4h0M876.0,294.3h0M858.4,291.5h0M870.6,290.8h0M824.5,342.3h0M832.2,334.6h0M833.8,338.4h0M836.1,340.0h0M840.7,354.6h0" fill="none" stroke="#2ca02c" stroke-width="7.3" stroke-linecap="round"/>
<path d="M241.7,242.4h0M281.7,232.6h0M284.1,326.1h0M280.8,335.3h0M346.1,358.1h0M349.2,358.4h0M353.8,359.2h0M357.6,360.8h0M360.7,361.5h0M334.6,370.0h0M330.7,376.9h0M380.7,370.3h0M410.7,396.1h0M413.7,398.4h0M416.8,396.9h0M413.0,400.7h0M426.0,404.6h0M417.6,411.0h0M423.0,413.8h0M426.0,416.1h0M424.5,419.9h0M423.0,423.8h0M423.0,428.4h0M412.2,422.2h0M411.9,426.8h0M404.5,433.0h0M358.1,428.4h0M364.6,431.9h0M393.0,434.5h0M392.2,439.9h0M395.3,444.5h0M390.7,446.1h0M379.2,442.2h0M375.3,446.1h0M398.4,447.6h0M389.9,451.5h0M373.8,450.0h0M379.9,453.1h0M375.3,460.0h0M359.9,451.5h0M363.0,454.6h0M358.4,457.7h0M366.9,456.9h0M361.5,459.2h0M359.2,465.4h0M358.4,476.9h0M376.1,479.2h0M383.8,478.4h0M555.3,293.8h0M616.6,222.7h0M636.6,219.6h0M636.9,223.4h0M647.2,232.4h0M708.4,239.3h0M698.4,245.0h0M759.9,229.6h0M749.6,255.7h0M689.1,259.6h0M649.2,277.7h0M724.2,278.8h0M644.9,294.6h0M652.6,298.5h0M667.6,294.5h0M714.8,295.4h0M747.6,303.8h0M751.4,311.4h0M625.4,311.4h0M596.9,230.4h0M538.6,341.4h0M565.5,341.9h0M495.1,344.9h0M499.5,343.7h0M506.3,344.2h0M511.0,344.2h0M516.4,346.1h0M528.8,344.9h0M535.6,344.1h0M540.8,346.1h0M555.7,344.7h0M557.9,343.8h0M564.7,346.4h0M569.0,345.0h0M498.1,349.6h0M502.0,348.3h0M507.3,350.4h0M512.2,349.5h0M517.0,348.1h0M521.2,350.1h0M528.1,348.9h0M532.8,349.7h0M538.3,350.5h0M541.8,350.6h0M548.3,349.5h0M552.9,349.2h0M556.4,348.5h0M562.7,348.3h0M565.4,350.1h0M572.2,349.2h0M505.1,352.5h0M509.0,353.0h0M516.2,354.8h0M520.7,353.4h0M529.9,354.1h0M533.4,352.7h0M540.6,354.3h0M545.6,353.7h0M549.2,353.7h0M564.9,352.1h0M569.5,354.7h0M572.6,353.7h0M508.9,356.7h0M511.5,356.6h0M516.2,357.6h0M546.6,358.3h0M562.4,358.5h0M565.2,357.6h0M509.9,361.4h0M544.6,362.1h0M548.2,362.8h0M555.7,361.5h0M558.7,363.3h0M563.0,360.8h0M553.0,367.0h0M557.1,366.9h0M559.2,330.3h0M516.1,366.1h0M590.7,358.1h0M574.5,366.1h0M579.1,365.3h0M576.8,370.7h0M572.2,373.8h0M570.7,378.4h0M591.4,373.8h0M570.7,390.7h0M576.8,396.1h0M586.1,393.0h0M588.4,396.8h0M592.2,396.8h0M581.4,406.1h0M597.6,405.3h0M605.3,398.4h0M609.1,400.7h0M612.2,399.9h0M619.6,371.2h0M630.6,344.6h0M639.1,344.3h0M628.3,379.9h0M632.2,377.6h0M635.2,379.9h0M631.4,383.8h0M628.3,389.1h0M625.3,392.2h0M633.7,399.9h0M637.5,400.7h0M625.7,311.5h0M584.6,415.8h0M587.6,419.6h0M579.7,426.5h0M583.0,432.7h0M593.0,427.3h0M596.9,429.1h0M629.9,414.2h0M645.3,415.8h0M623.0,432.4h0M617.6,442.3h0M601.5,472.6h0M794.6,224.7h0M774.6,233.9h0M854.5,248.8h0M870.8,235.8h0M873.7,242.3h0M903.4,235.8h0M918.5,253.4h0M862.8,265.5h0M747.7,303.8h0M752.0,311.5h0M763.4,316.1h0M778.4,322.7h0M776.9,307.7h0M780.7,310.0h0M784.6,311.5h0M789.2,310.0h0M793.8,310.8h0M790.7,315.4h0M786.9,318.4h0M794.6,315.4h0M799.2,315.4h0M781.5,313.8h0M810.7,320.7h0M810.4,323.0h0M760.8,330.7h0M765.4,332.7h0M839.9,296.9h0M842.2,346.1h0M843.0,348.4h0M834.1,389.1h0M864.0,390.4h0M967.3,455.4h0M410.0,398.3h0M413.8,395.5h0M417.5,398.3h0M414.7,400.7h0M375.4,445.1h0M379.2,448.8h0M363.3,454.4h0M365.1,458.2h0M396.0,444.5h0M392.3,439.4h0" fill="none" stroke="#ffa500" stroke-width="7.3" stroke-linecap="round"/>
</g>
<rect x="349.5" y="522.4" width="641.9" height="29.2" rx="3" ry="3" fill="#fff" fill-opacity="0.8" stroke="#ccc" stroke-width="1"/>
<circle cx="373.3" cy="537" r="3.65" fill="#1f77b4"/>
<circle cx="580" cy="537" r="3.65" fill="#2ca02c"/>
<circle cx="794.5" cy="537" r="3.65" fill="#ffa500"/>
<text x="403.5" y="542.0" font-size="17.1" text-anchor="start" stroke="#000" stroke-width="0.25" >Low-Low-Disperse</text>
<text x="610.5" y="542.0" font-size="17.1" text-anchor="start" stroke="#000" stroke-width="0.25" >High-Low-Compact</text>
<text x="824.5" y="542.0" font-size="17.1" text-anchor="start" stroke="#000" stroke-width="0.25" >Low-High-Disperse</text>
<rect x="139.2" y="206.8" width="856.6" height="348.6" fill="none" stroke="#000" stroke-width="1.3"/>
<line x1="252.9" y1="555.4" x2="252.9" y2="561.8" stroke="#000" stroke-width="1.3"/>
<text x="252.9" y="580.4" font-size="16.9" text-anchor="middle" stroke="#000" stroke-width="0.25" >−100</text>
<line x1="395.7" y1="555.4" x2="395.7" y2="561.8" stroke="#000" stroke-width="1.3"/>
<text x="395.7" y="580.4" font-size="16.9" text-anchor="middle" stroke="#000" stroke-width="0.25" >−50</text>
<line x1="538.4" y1="555.4" x2="538.4" y2="561.8" stroke="#000" stroke-width="1.3"/>
<text x="538.4" y="580.4" font-size="16.9" text-anchor="middle" stroke="#000" stroke-width="0.25" >0</text>
<line x1="681.1" y1="555.4" x2="681.1" y2="561.8" stroke="#000" stroke-width="1.3"/>
<text x="681.1" y="580.4" font-size="16.9" text-anchor="middle" stroke="#000" stroke-width="0.25" >50</text>
<line x1="823.8" y1="555.4" x2="823.8" y2="561.8" stroke="#000" stroke-width="1.3"/>
<text x="823.8" y="580.4" font-size="16.9" text-anchor="middle" stroke="#000" stroke-width="0.25" >100</text>
<line x1="966.6" y1="555.4" x2="966.6" y2="561.8" stroke="#000" stroke-width="1.3"/>
<text x="966.6" y="580.4" font-size="16.9" text-anchor="middle" stroke="#000" stroke-width="0.25" >150</text>
<line x1="132.8" y1="212.9" x2="139.2" y2="212.9" stroke="#000" stroke-width="1.3"/>
<text x="126.7" y="219.0" font-size="16.9" text-anchor="end" stroke="#000" stroke-width="0.25" >60</text>
<line x1="132.8" y1="269.9" x2="139.2" y2="269.9" stroke="#000" stroke-width="1.3"/>
<text x="126.7" y="276.1" font-size="16.9" text-anchor="end" stroke="#000" stroke-width="0.25" >40</text>
<line x1="132.8" y1="327.0" x2="139.2" y2="327.0" stroke="#000" stroke-width="1.3"/>
<text x="126.7" y="333.1" font-size="16.9" text-anchor="end" stroke="#000" stroke-width="0.25" >20</text>
<line x1="132.8" y1="384.1" x2="139.2" y2="384.1" stroke="#000" stroke-width="1.3"/>
<text x="126.7" y="390.2" font-size="16.9" text-anchor="end" stroke="#000" stroke-width="0.25" >0</text>
<line x1="132.8" y1="441.2" x2="139.2" y2="441.2" stroke="#000" stroke-width="1.3"/>
<text x="126.7" y="447.3" font-size="16.9" text-anchor="end" stroke="#000" stroke-width="0.25" >−20</text>
<line x1="132.8" y1="498.3" x2="139.2" y2="498.3" stroke="#000" stroke-width="1.3"/>
<text x="126.7" y="504.4" font-size="16.9" text-anchor="end" stroke="#000" stroke-width="0.25" >−40</text>
<line x1="132.8" y1="555.4" x2="139.2" y2="555.4" stroke="#000" stroke-width="1.3"/>
<text x="126.7" y="561.5" font-size="16.9" text-anchor="end" stroke="#000" stroke-width="0.25" >−60</text>
<text x="138.6" y="196.7" font-size="17.1" text-anchor="start" stroke="#000" stroke-width="0.25" >(a) Spatial distribution</text>
<clipPath id="pcb"><rect x="138.8" y="626.6" width="251.5" height="228.0"/></clipPath>
<g clip-path="url(#pcb)">
<rect x="138.8" y="626.6" width="251.5" height="228.0" fill="#d9f0b3"/>
<path d="M136.7,640.6C136.7,640.6 145.1,636.8 148.1,637.2C151.1,637.6 153.2,641 154.9,642.9C156.6,644.8 156.7,647.6 158.3,648.6C159.9,649.5 162.9,649.5 164.4,648.6C165.9,647.6 164.8,645 167.4,642.9C169.9,640.8 175.9,638.2 179.8,636.1C183.8,634 187.8,632.3 191.2,630.4C194.6,628.5 200.3,624.7 200.3,624.7C200.3,624.7 213.9,624.7 213.9,624.7C213.9,624.7 212.7,628.9 211.2,631.5C209.7,634.2 207,637.2 204.8,640.6C202.6,644 199.3,649.3 198,652C196.7,654.6 196.3,655 196.9,656.5C197.4,658 201,659.3 201.4,661C201.8,662.7 201,665 199.1,666.7C197.2,668.4 193.7,670.1 190.1,671.3C186.5,672.4 181.6,673.5 177.6,673.5C173.6,673.5 170.4,672 166.2,671.3C162.1,670.5 157.5,668.3 152.6,669C147.7,669.6 136.7,675.1 136.7,675.1C136.7,675.1 136.7,640.6 136.7,640.6Z" fill="#bde5b5"/>
<path d="M136.7,634.9C136.7,634.9 143.2,633.2 145.8,631.5C148.5,629.8 152.6,624.7 152.6,624.7C152.6,624.7 161.7,624.7 161.7,624.7C161.7,624.7 159,630.6 157.2,632.7C155.3,634.8 153.8,635.3 150.3,637.2C146.9,639.1 136.7,644 136.7,644C136.7,644 136.7,634.9 136.7,634.9Z" fill="#d9f0b3"/>
<path d="M330.8,624.7C330.8,624.7 353.5,624.7 353.5,624.7C353.5,624.7 350.6,633.4 348.9,636.1C347.2,638.7 345.3,640.8 343.2,640.6C341.2,640.4 338.5,637.6 336.4,634.9C334.4,632.3 330.8,624.7 330.8,624.7Z" fill="#bde5b5"/>
<path d="M365.9,634.9C367.6,632.7 370.5,630.6 375,629.3C379.6,627.9 393.2,627 393.2,627C393.2,627 393.2,695.1 393.2,695.1C393.2,695.1 383.7,694.3 379.6,692.8C375.4,691.3 370.5,688.7 368.2,686C365.9,683.4 365.6,680.3 365.9,676.9C366.3,673.5 368.6,668.6 370.5,665.6C372.4,662.6 377.3,661.4 377.3,658.8C377.3,656.1 372.6,652.3 370.5,649.7C368.4,647 365.6,645.3 364.8,642.9C364.1,640.4 364.2,637.2 365.9,634.9Z" fill="#bde5b5"/>
<path d="M165.1,732.5C165.1,733.3 164.6,734.2 163.9,734.8C163.2,735.4 161.9,736 160.7,736.2C159.5,736.4 158,736.4 156.8,736.2C155.6,736 154.3,735.4 153.6,734.8C152.9,734.2 152.4,733.3 152.4,732.5C152.4,731.8 152.9,730.9 153.6,730.3C154.3,729.6 155.6,729.1 156.8,728.9C158,728.6 159.5,728.6 160.7,728.9C161.9,729.1 163.2,729.6 163.9,730.3C164.6,730.9 165.1,731.8 165.1,732.5Z" fill="#bde5b5"/>
<path d="M255.9,858.5C255.9,858.5 257.2,849.8 259.3,847.1C261.4,844.5 265,843.9 268.4,842.6C271.8,841.3 276.3,840.5 279.7,839.2C283.1,837.9 286.3,835.2 288.8,834.7C291.2,834.1 293.4,834.1 294.5,835.8C295.5,837.5 295.7,841.1 295.1,844.9C294.6,848.6 291.1,858.5 291.1,858.5C291.1,858.5 255.9,858.5 255.9,858.5Z" fill="#bde5b5"/>
<path d="M184.4,745C184.2,741.6 185.5,736.9 187.8,733.7C190.1,730.4 193.7,727.3 198,725.7C202.4,724.1 208.6,724.8 213.9,723.9C219.2,723 225.2,721.8 229.8,720.5C234.3,719.2 236.6,716.9 241.1,716C245.7,715.1 251.3,715.3 257,715.1C262.7,714.8 270.2,713.9 275.2,714.4C280.1,714.8 282.7,716.8 286.5,717.8C290.3,718.7 293.7,719.3 297.9,720C302,720.8 306.6,721.6 311.5,722.3C316.4,723.1 322.1,723.5 327.4,724.6C332.7,725.7 338.7,728 343.2,729.1C347.8,730.3 351.9,732.5 354.6,731.4C357.2,730.3 356.9,724.4 359.1,722.3C361.4,720.2 365.6,718.9 368.2,718.9C370.9,718.9 373.1,719.9 375,722.3C376.9,724.8 377.7,730.3 379.6,733.7C381.5,737.1 384.1,740.8 386.4,742.7C388.6,744.6 393.2,745 393.2,745C393.2,745 393.2,797.7 393.2,797.7C393.2,797.7 382.6,798.4 379.6,797.2C376.5,796 375.6,793.8 375,790.4C374.5,787 376.5,779.8 376.2,776.8C375.8,773.8 374.8,773.2 372.8,772.2C370.7,771.3 368.6,771.1 363.7,771.1C358.8,771.1 348.9,771.7 343.2,772.2C337.6,772.8 333,773 329.6,774.5C326.2,776 324.3,778.7 322.8,781.3C321.3,784 322.1,787.4 320.6,790.4C319,793.4 316.8,797.4 313.7,799.5C310.7,801.6 306.9,802.9 302.4,802.9C297.9,802.9 291.1,800.6 286.5,799.5C282,798.3 278.2,795.9 275.2,796.1C272.1,796.3 270.6,801.2 268.4,800.6C266.1,800 265.3,794.7 261.5,792.7C257.8,790.6 250.2,790 245.7,788.1C241.1,786.2 237.3,783.6 234.3,781.3C231.3,779.1 230.9,776.8 227.5,774.5C224.1,772.2 218.4,770 213.9,767.7C209.4,765.4 204.4,763.2 200.3,760.9C196.1,758.6 191.6,756.7 188.9,754.1C186.3,751.4 184.6,748.4 184.4,745Z" fill="#bde5b5"/>
<path d="M223,751.5C223.3,750.3 226.1,749.3 229.2,748.9C232.3,748.4 238.2,749.3 241.5,748.9C244.8,748.4 247.4,747.3 249.2,746.1C251,744.9 250.7,743.3 252.2,741.5C253.8,739.7 256.1,737.1 258.4,735.4C260.7,733.6 262.7,732 266.1,730.7C269.4,729.5 274.3,728.1 278.4,727.7C282.5,727.3 286.6,727.9 290.7,728.4C294.8,728.9 299.1,729.6 303,730.7C306.8,731.9 310.1,733.6 313.7,735.4C317.3,737.1 321.4,739.2 324.5,741.5C327.6,743.8 331.7,747.1 332.2,749.2C332.7,751.2 329.9,752.5 327.6,753.8C325.3,755.1 321.2,755.6 318.3,756.9C315.5,758.2 313.2,759.7 310.6,761.5C308.1,763.3 305,765.3 303,767.6C300.9,769.9 299.9,773.5 298.4,775.3C296.8,777.1 296,778.1 293.7,778.4C291.4,778.6 288.1,777.6 284.5,776.9C280.9,776.1 276.3,774.5 272.2,773.8C268.1,773 263.8,773.3 259.9,772.2C256.1,771.2 252.8,769.4 249.2,767.6C245.6,765.8 242,763.4 238.4,761.5C234.8,759.6 230.2,757.8 227.6,756.1C225.1,754.4 222.8,752.7 223,751.5Z" fill="#90d4b9"/>
<path d="M263,755.3C263.4,753.2 264.5,748.7 266.1,746.1C267.6,743.5 269.9,741.6 272.2,740C274.5,738.3 276.8,736.8 279.9,736.1C283,735.5 287.1,735.5 290.7,736.1C294.3,736.8 298.6,738.3 301.4,740C304.2,741.6 306.3,744.1 307.6,746.1C308.9,748.2 309.9,750.2 309.1,752.3C308.3,754.3 305,756.4 303,758.4C300.9,760.5 299.4,763 296.8,764.6C294.3,766.1 290.7,767.4 287.6,767.6C284.5,767.9 281.4,766.9 278.4,766.1C275.3,765.3 271.6,764.2 269.1,763C266.7,761.9 264.8,760.5 263.8,759.2C262.7,757.9 262.6,757.5 263,755.3Z" fill="#67c4be"/>
<path d="M298.8,753.1C298.6,754.9 297.3,757 295.5,758.3C293.7,759.5 290.9,760.5 288.3,760.7C285.7,761 282.5,760.5 280,759.6C277.6,758.7 275.2,756.9 273.8,755.2C272.5,753.5 271.8,751.2 272,749.3C272.3,747.5 273.6,745.4 275.4,744.1C277.1,742.8 280,741.8 282.6,741.6C285.1,741.4 288.4,741.9 290.8,742.8C293.3,743.7 295.7,745.4 297.1,747.2C298.4,748.9 299.1,751.2 298.8,753.1Z" fill="#40b5c4"/>
<path d="M294.9,753C294.7,754.1 293.9,755.4 292.8,756.2C291.7,756.9 289.9,757.5 288.2,757.7C286.6,757.8 284.5,757.5 283,756.9C281.4,756.4 279.8,755.3 279,754.2C278.1,753.2 277.7,751.7 277.8,750.6C278,749.5 278.8,748.2 279.9,747.4C281.1,746.7 282.9,746.1 284.5,745.9C286.1,745.8 288.2,746.1 289.8,746.7C291.3,747.2 292.9,748.3 293.7,749.4C294.6,750.4 295,751.9 294.9,753Z" fill="#2b9fc2"/>
<path d="M234.3,657.6C235.3,656.9 238.1,655.7 241.1,655.4C244.2,655 249.8,655.6 252.5,655.4C255.1,655.2 254.7,654.4 257,654.2C259.3,654 264.4,653.7 266.1,654.2C267.8,654.8 268.4,656.9 267.2,657.6C266.1,658.4 261.7,658.7 259.3,658.8C256.8,658.9 255.5,658 252.5,658.3C249.4,658.6 244,660.3 241.1,660.6C238.3,660.9 236.6,660.4 235.5,659.9C234.3,659.4 233.4,658.4 234.3,657.6Z" fill="#eff9b5"/>
<path d="M282,692.8C282.7,690.9 283.9,688.1 286.5,687.1C289.2,686.2 294.1,686.2 297.9,687.1C301.6,688.1 305.6,690.9 309.2,692.8C312.8,694.7 317.7,696.4 319.4,698.5C321.1,700.6 320.7,704.2 319.4,705.3C318.1,706.4 315.1,705.7 311.5,705.3C307.9,704.9 302,703.6 297.9,703C293.7,702.5 289.2,702.6 286.5,701.9C283.9,701.1 282.7,700 282,698.5C281.2,697 281.2,694.7 282,692.8Z" fill="#eff9b5"/>
<path d="M153.8,783.6C154.5,781.9 156.6,779.8 159.4,779.1C162.3,778.3 167.9,778.3 170.8,779.1C173.6,779.8 176.1,782.1 176.4,783.6C176.8,785.1 175.1,787.2 173,788.1C171,789.1 166.4,788.5 164,789.3C161.5,790 159.8,792.7 158.3,792.7C156.8,792.7 155.6,790.8 154.9,789.3C154.1,787.8 153,785.3 153.8,783.6Z" fill="#eff9b5"/>
<path d="M136.7,824.4C136.7,824.4 145.2,824.6 148.1,825.6C150.9,826.5 153.2,828.6 153.8,830.1C154.3,831.6 153.2,833.7 151.5,834.7C149.8,835.6 146,835.8 143.5,835.8C141.1,835.8 136.7,834.7 136.7,834.7C136.7,834.7 136.7,824.4 136.7,824.4Z" fill="#eff9b5"/>
<g fill="none" stroke="#000" stroke-width="1.5" stroke-linecap="round">
<path d="M289.1,723.1C288.4,722.5 286.3,721.3 284.5,720C282.7,718.7 280.4,716.3 278.4,715.4C276.3,714.4 274.8,714.3 272.2,714.3C269.7,714.2 266.1,714.8 263,715.1C259.9,715.4 257.4,715.8 253.8,716.1C250.2,716.5 245.1,716.3 241.5,717.2C237.9,718.1 235.1,720 232.3,721.5C229.4,723 226.9,724.5 224.6,726.1C222.3,727.8 220,729.5 218.4,731.5C216.8,733.6 215.7,736.2 215,738.4C214.4,740.6 214.1,742.5 214.6,744.6C215,746.6 216,748.8 217.7,750.7C219.3,752.6 221.9,754.3 224.6,756.1C227.3,757.9 231,759.9 233.8,761.5C236.6,763 238.7,764.1 241.5,765.3C244.3,766.6 247.1,767.9 250.7,768.9C254.3,769.8 258.9,770.5 263,771C267.1,771.5 271.7,772.1 275.3,771.9C278.9,771.8 281.7,770.9 284.5,769.9C287.3,769 290.2,767.5 292.2,766.1C294.3,764.7 295.5,762.9 296.8,761.5C298.1,760.1 298.4,758.8 299.9,757.6C301.4,756.5 304.2,755.7 306,754.6C307.8,753.4 309.6,752.1 310.6,750.7C311.7,749.3 312.4,747.8 312.5,746.1C312.6,744.4 312.2,742.4 311.4,740.7C310.6,739.1 308.2,736.9 307.6,736.1"/>
<path d="M241.5,753C240.7,752.1 238.1,749.4 236.9,747.6C235.6,745.9 234.5,744.1 234.1,742.3C233.7,740.5 233.6,738.7 234.6,736.9C235.5,735.1 237.8,733 239.9,731.5C242.1,730 244.8,728.7 247.6,727.7C250.4,726.6 253.8,725.6 256.9,725.1C259.9,724.5 263,724.4 266.1,724.6C269.1,724.8 272.5,725.2 275.3,726.1C278.1,727 280.8,728.3 283,730C285.2,731.6 287.1,733.9 288.4,736.1C289.6,738.3 290.2,740.9 290.4,743C290.5,745.2 290.2,747.3 289.4,749.2C288.7,751.1 287.6,752.9 286.1,754.6C284.5,756.2 282.2,758 279.9,759.2C277.6,760.3 275,761 272.2,761.5C269.4,762 264.5,762.1 263,762.3"/>
<path d="M252.2,737.7C251.9,738.3 250.6,740.1 250.4,741.5C250.2,742.9 250.2,744.6 251,746.1C251.8,747.6 253.6,749.6 255.3,750.7C257.1,751.9 259.4,752.7 261.5,753C263.5,753.3 265.6,753.1 267.6,752.6C269.7,752.1 272.2,751 273.8,750C275.3,748.9 276.2,747.1 276.8,746.1C277.5,745.1 277.5,744.2 277.6,743.8"/>
</g>
<text transform="translate(266.8,732.6) rotate(-8)" font-size="12.5" text-anchor="middle" dy="4.5" fill="#000">20</text>
<text transform="translate(251.9,757.9) rotate(12)" font-size="12.5" text-anchor="middle" dy="4.5" fill="#000">5</text>
<text transform="translate(299.1,728.0) rotate(18)" font-size="12.5" text-anchor="middle" dy="4.5" fill="#000">2</text>
</g>
<rect x="138.8" y="626.6" width="251.5" height="228.0" fill="none" stroke="#000" stroke-width="1.3"/>
<line x1="138.8" y1="854.6" x2="138.8" y2="861.0" stroke="#000" stroke-width="1.3"/>
<text x="138.8" y="879.4" font-size="16.9" text-anchor="middle" stroke="#000" stroke-width="0.25" >-50</text>
<line x1="132.4" y1="854.6" x2="138.8" y2="854.6" stroke="#000" stroke-width="1.3"/>
<text x="126.3" y="860.7" font-size="16.9" text-anchor="end" stroke="#000" stroke-width="0.25" >-50</text>
<line x1="201.7" y1="854.6" x2="201.7" y2="861.0" stroke="#000" stroke-width="1.3"/>
<text x="201.7" y="879.4" font-size="16.9" text-anchor="middle" stroke="#000" stroke-width="0.25" >-25</text>
<line x1="132.4" y1="797.6" x2="138.8" y2="797.6" stroke="#000" stroke-width="1.3"/>
<text x="126.3" y="803.7" font-size="16.9" text-anchor="end" stroke="#000" stroke-width="0.25" >-25</text>
<line x1="264.6" y1="854.6" x2="264.6" y2="861.0" stroke="#000" stroke-width="1.3"/>
<text x="264.6" y="879.4" font-size="16.9" text-anchor="middle" stroke="#000" stroke-width="0.25" >0</text>
<line x1="132.4" y1="740.6" x2="138.8" y2="740.6" stroke="#000" stroke-width="1.3"/>
<text x="126.3" y="746.7" font-size="16.9" text-anchor="end" stroke="#000" stroke-width="0.25" >0</text>
<line x1="327.4" y1="854.6" x2="327.4" y2="861.0" stroke="#000" stroke-width="1.3"/>
<text x="327.4" y="879.4" font-size="16.9" text-anchor="middle" stroke="#000" stroke-width="0.25" >25</text>
<line x1="132.4" y1="683.6" x2="138.8" y2="683.6" stroke="#000" stroke-width="1.3"/>
<text x="126.3" y="689.7" font-size="16.9" text-anchor="end" stroke="#000" stroke-width="0.25" >25</text>
<line x1="390.3" y1="854.6" x2="390.3" y2="861.0" stroke="#000" stroke-width="1.3"/>
<text x="390.3" y="879.4" font-size="16.9" text-anchor="middle" stroke="#000" stroke-width="0.25" >50</text>
<line x1="132.4" y1="626.6" x2="138.8" y2="626.6" stroke="#000" stroke-width="1.3"/>
<text x="126.3" y="632.7" font-size="16.9" text-anchor="end" stroke="#000" stroke-width="0.25" >50</text>
<text x="138.2" y="615.6" font-size="17.1" text-anchor="start" stroke="#000" stroke-width="0.25" >(b) Low-Low-Disperse (I)</text>
<text x="264.6" y="902.9" font-size="17.1" text-anchor="middle" stroke="#000" stroke-width="0.25" >Distance (W-E, km)</text>
<clipPath id="pcc"><rect x="441.3" y="626.6" width="251.5" height="228.0"/></clipPath>
<g clip-path="url(#pcc)">
<rect x="441.3" y="626.6" width="251.5" height="228.0" fill="#1e85ba"/>
<path d="M475,624.7C475,624.7 474.7,636.3 476.2,639.5C477.7,642.7 480.9,643.2 484.1,644C487.3,644.9 491.7,645.2 495.5,644.7C499.2,644.2 503.4,642.7 506.8,641.1C510.2,639.4 512.9,636.5 515.9,634.9C518.9,633.4 521.6,632.2 525,631.5C528.4,630.9 533.1,630.3 536.3,631.1C539.5,631.8 542.4,633.7 544.3,636.1C546.1,638.4 547.4,642.3 547.2,645.2C547,648 545.7,651.2 543.1,653.1C540.6,655 535.9,655.7 531.8,656.5C527.6,657.3 522.1,656.9 518.2,657.6C514.2,658.4 510.4,659.3 507.9,661C505.5,662.7 503.6,665.8 503.4,667.8C503.2,669.9 504.4,672 506.8,673.5C509.3,675 513.2,676.4 518.2,676.9C523.1,677.5 530.3,677.1 536.3,676.9C542.4,676.7 549.7,675.7 554.5,675.8C559.2,675.9 562.6,676.2 564.7,677.4C566.8,678.5 565.6,681 567,682.6C568.3,684.2 569.4,686.8 572.6,687.1C575.8,687.5 581.7,685.6 586.2,684.9C590.8,684.1 596.3,682.6 599.9,682.6C603.5,682.6 606.1,683.2 607.8,684.9C609.5,686.6 610.1,689.6 610.1,692.8C610.1,696 608.6,700.8 607.8,704.2C607,707.6 604.6,710.8 605.5,713.2C606.5,715.7 609.9,717.8 613.5,718.9C617.1,720 622.6,720.4 627.1,720C631.6,719.7 637.1,718.2 640.7,716.6C644.3,715.1 648.1,713.2 648.7,711C649.2,708.7 646.2,705.2 644.1,703C642,700.8 637.9,699.9 636.2,697.8C634.4,695.7 633.3,693.3 633.4,690.5C633.6,687.8 635.1,683.8 637.3,681.5C639.5,679.1 642.8,676.9 646.4,676.5C650,676 654.5,678.7 658.9,678.7C663.2,678.8 668.3,678.2 672.5,676.9C676.6,675.7 680,673.1 683.8,671.3C687.6,669.4 695.2,665.6 695.2,665.6C695.2,665.6 695.2,624.7 695.2,624.7C695.2,624.7 475,624.7 475,624.7Z" fill="#2b9fc2"/>
<path d="M549.9,649.7C550.7,647.8 555.2,645.9 559,644C562.8,642.1 568.1,640 572.6,638.3C577.2,636.6 581.7,634.5 586.2,633.8C590.8,633.1 595.7,633.3 599.9,634.3C604,635.2 607.8,637.1 611.2,639.5C614.6,641.9 617.8,645.7 620.3,648.6C622.7,651.4 625.6,654 626,656.5C626.3,659 625,661.8 622.6,663.3C620.1,664.8 615.4,665.4 611.2,665.6C607,665.8 602.1,664.1 597.6,664.4C593.1,664.8 588.5,666.5 584,667.8C579.4,669.2 573.6,672 570.4,672.4C567.1,672.8 566,672 564.7,670.1C563.4,668.2 564.1,663.5 562.4,661C560.7,658.6 556.6,657.3 554.5,655.4C552.4,653.5 549.2,651.6 549.9,649.7Z" fill="#1e85ba"/>
<path d="M649.1,663.3C649.1,664.3 648.7,665.5 648.2,666.2C647.6,667 646.6,667.8 645.7,668.1C644.7,668.4 643.5,668.4 642.6,668.1C641.6,667.8 640.6,667 640.1,666.2C639.5,665.5 639.1,664.3 639.1,663.3C639.1,662.3 639.5,661.2 640.1,660.4C640.6,659.6 641.6,658.9 642.6,658.6C643.5,658.3 644.7,658.3 645.7,658.6C646.6,658.9 647.6,659.6 648.2,660.4C648.7,661.2 649.1,662.3 649.1,663.3Z" fill="#1e85ba"/>
<path d="M672.5,713.2C673.2,711.8 675.5,710 679.3,709.2C683.1,708.3 695.2,708.2 695.2,708.2C695.2,708.2 695.2,720.5 695.2,720.5C695.2,720.5 685,721 681.6,720.5C678.2,720 676.3,719 674.8,717.8C673.2,716.6 671.7,714.7 672.5,713.2Z" fill="#2b9fc2"/>
<path d="M438.7,684.9C438.7,684.9 446.3,686.3 450.1,686.5C453.9,686.6 458.6,687 461.4,686C464.3,685 465.2,682.1 467.1,680.3C469,678.5 470.5,676.1 472.8,675.1C475,674.2 478.5,673.8 480.7,674.7C482.9,675.5 485.3,677.7 485.9,680.3C486.6,683 486,687.9 484.6,690.5C483.1,693.2 480,695.5 477.3,696.2C474.6,697 471.3,695.8 468.2,695.1C465.2,694.3 462.2,691.9 459.2,691.7C456.1,691.5 453.5,693.4 450.1,693.9C446.7,694.5 438.7,695.1 438.7,695.1C438.7,695.1 438.7,684.9 438.7,684.9Z" fill="#2165ab"/>
<path d="M547.9,697.4C547.9,698.8 547.3,700.6 546.3,701.8C545.4,702.9 543.8,704 542.2,704.5C540.7,704.9 538.7,704.9 537.2,704.5C535.7,704 534.1,702.9 533.1,701.8C532.2,700.6 531.6,698.8 531.6,697.4C531.6,695.9 532.2,694.1 533.1,693C534.1,691.8 535.7,690.7 537.2,690.2C538.7,689.8 540.7,689.8 542.2,690.2C543.8,690.7 545.4,691.8 546.3,693C547.3,694.1 547.9,695.9 547.9,697.4Z" fill="#2165ab"/>
<path d="M512,710.5C512,712.2 511.4,714.2 510.4,715.6C509.4,717 507.7,718.2 506.1,718.7C504.5,719.2 502.4,719.2 500.7,718.7C499.1,718.2 497.4,717 496.4,715.6C495.4,714.2 494.8,712.2 494.8,710.5C494.8,708.8 495.4,706.8 496.4,705.4C497.4,704.1 499.1,702.8 500.7,702.3C502.4,701.8 504.5,701.8 506.1,702.3C507.7,702.8 509.4,704.1 510.4,705.4C511.4,706.8 512,708.8 512,710.5Z" fill="#2165ab"/>
<path d="M438.7,728.4C438.7,728.4 449.1,730 453.7,731.6C458.3,733.2 462.2,735.4 466.4,738C470.6,740.5 474.7,745 478.9,746.8C483.1,748.6 487.8,748.3 491.6,748.9C495.4,749.4 498.9,749.6 501.8,750C504.8,750.4 507.3,751.5 509.3,751.4C511.3,751.3 511.7,750.9 513.8,749.3C516,747.7 519.4,744.8 522,741.8C524.6,738.9 527,734.8 529.5,731.6C532,728.4 534.9,725.7 537.2,722.8C539.6,719.8 542.7,716.5 543.6,713.9C544.5,711.4 542,709 542.7,707.6C543.4,706.1 544.6,705.7 547.7,705.3C550.8,704.8 556.7,705.2 561.3,704.8C565.8,704.5 571.1,703.8 574.9,703C578.7,702.2 580.9,699.7 584,700.1C587,700.5 590.4,702.9 593.1,705.3C595.7,707.7 598.1,712 599.9,714.4C601.6,716.7 600.6,718.2 603.5,719.4C606.4,720.5 614.1,719.5 617.3,721.2C620.6,722.9 621.1,726.7 623,729.6C624.9,732.5 625.8,736.8 628.7,738.7C631.5,740.5 636.2,740 640,740.5C643.8,741 647.6,740.7 651.4,741.6C655.2,742.5 659.9,744.7 662.7,745.7C665.6,746.6 666.3,747.9 668.4,747.3C670.5,746.7 673.1,743.4 675.4,742.1C677.7,740.7 678.9,739.5 682.2,739.3C685.5,739.1 695.2,740.9 695.2,740.9C695.2,740.9 695.2,858.5 695.2,858.5C695.2,858.5 438.7,858.5 438.7,858.5C438.7,858.5 438.7,728.4 438.7,728.4Z" fill="#2165ab"/>
<path d="M695.2,762C695.2,762 684,761.3 680,761.6C675.9,761.9 673.8,762.5 670.9,763.8C668,765.2 665.4,767.8 662.7,769.5C660,771.2 657.2,772.7 654.8,774.1C652.3,775.4 649.9,776.3 648,777.5C646.1,778.7 643.8,779.7 643.4,781.3C643.1,782.9 644.2,784.9 645.7,787C647.2,789.1 650.2,791.6 652.5,793.8C654.8,796 657.3,797.8 659.3,799.9C661.3,802 663.5,803.7 664.5,806.3C665.6,808.9 664.7,812.7 665.7,815.4C666.6,818 667.9,820.7 670.2,822.2C672.5,823.7 676.6,824.8 679.3,824.4C681.9,824.1 683.5,821.2 686.1,819.9C688.7,818.6 695.2,816.5 695.2,816.5C695.2,816.5 695.2,762 695.2,762Z" fill="#1e85ba"/>
<path d="M597.6,809C599.5,806.4 601.4,804.1 604.4,802.2C607.4,800.3 611.6,798.8 615.7,797.7C619.9,796.5 625.2,795.4 629.4,795.4C633.5,795.4 638.3,796.3 640.7,797.7C643.2,799 644.1,801.4 644.1,803.3C644.1,805.2 642.4,807.3 640.7,809C639,810.7 636.2,812 633.9,813.5C631.6,815.1 629.4,816.2 627.1,818.1C624.8,820 622.6,822.8 620.3,824.9C618,827 616.1,829.4 613.5,830.6C610.8,831.7 607,832.3 604.4,831.7C601.8,831.1 599.5,829.4 597.6,827.2C595.7,824.9 593.1,821.1 593.1,818.1C593.1,815.1 595.7,811.7 597.6,809Z" fill="#1e85ba"/>
<path d="M613.5,807.4C614.6,805.8 619.1,803.4 622.6,802.2C626,801 630.7,799.9 633.9,799.9C637.1,799.9 640.7,800.9 641.8,802.2C643,803.5 642,806.4 640.7,807.9C639.4,809.4 636.9,810.5 633.9,811.3C630.9,812.1 625.6,812.5 622.6,812.6C619.5,812.8 617.3,812.8 615.7,812C614.2,811.1 612.3,809 613.5,807.4Z" fill="#2b9fc2"/>
<path d="M622.6,858.5C622.6,858.5 622.6,848.8 623.7,844.9C624.8,840.9 626.9,837.5 629.4,834.7C631.8,831.8 635,828.8 638.4,827.8C641.8,826.9 646.4,828 649.8,829C653.2,829.9 655.8,832.6 658.9,833.5C661.9,834.5 664.5,835.2 667.9,834.7C671.3,834.1 674.8,831.4 679.3,830.1C683.8,828.8 695.2,826.7 695.2,826.7C695.2,826.7 695.2,858.5 695.2,858.5C695.2,858.5 622.6,858.5 622.6,858.5Z" fill="#1e85ba"/>
<path d="M647.5,834C647.5,835 647.1,836.3 646.4,837.2C645.8,838 644.7,838.8 643.6,839.2C642.5,839.5 641.1,839.5 640.1,839.2C639,838.8 637.9,838 637.3,837.2C636.6,836.3 636.2,835 636.2,834C636.2,832.9 636.6,831.6 637.3,830.8C637.9,829.9 639,829.1 640.1,828.8C641.1,828.5 642.5,828.5 643.6,828.8C644.7,829.1 645.8,829.9 646.4,830.8C647.1,831.6 647.5,832.9 647.5,834Z" fill="#2b9fc2"/>
<path d="M486.4,858.5C486.4,858.5 487.5,852.2 488.7,850.5C489.8,848.8 491.7,848.1 493.2,848.3C494.7,848.5 496.8,850 497.7,851.7C498.7,853.4 498.9,858.5 498.9,858.5C498.9,858.5 486.4,858.5 486.4,858.5Z" fill="#1e85ba"/>
<path d="M452.8,750.3C452.8,751.8 452,753.6 450.9,754.8C449.7,756 447.7,757.1 445.9,757.6C444,758.1 439.7,757.6 439.7,757.6C439.7,757.6 434.8,754.8 434.8,754.8C434.8,754.8 432.9,750.3 432.9,750.3C432.9,750.3 434.8,745.8 434.8,745.8C434.8,745.8 439.7,743 439.7,743C439.7,743 444,742.5 445.9,743C447.7,743.4 449.7,744.6 450.9,745.8C452,747 452.8,748.8 452.8,750.3Z" fill="#234b9f"/>
<path d="M438.7,765.2C438.7,765.2 450.5,767.8 454.6,768.8C458.8,769.9 461,770 463.7,771.3C466.4,772.7 468.5,774.7 470.7,776.8C473,778.9 474.5,781.9 477.1,784C479.7,786.2 483.3,787.4 486.4,789.7C489.5,792 492.4,794.4 495.5,797.7C498.5,800.9 501.1,805.8 504.5,809C507.9,812.2 512.5,816.2 515.9,817C519.3,817.7 523.3,815.6 525,813.5C526.7,811.5 526.9,807.1 526.1,804.5C525.3,801.8 522.5,800.1 520.4,797.7C518.3,795.2 515.1,792.7 513.6,789.7C512.1,786.7 511,782.3 511.4,779.5C511.7,776.7 514.2,775.4 515.9,772.7C517.6,770 520.1,766 521.6,763.2C523,760.3 522.7,758.2 524.5,755.7C526.3,753.2 529.3,750.3 532.2,748.2C535.2,746.1 538.4,744.7 542.2,743C546,741.3 550.7,739.6 554.9,738C559.2,736.3 563.3,734.6 567.6,733C572,731.4 577.2,729 581,728.4C584.9,727.9 587.3,728.7 590.8,729.6C594.3,730.4 598.3,731.7 602.1,733.7C605.9,735.7 610.1,738.6 613.5,741.6C616.9,744.6 620.1,748.7 622.6,751.8C625,755 627.5,757.7 628,760.4C628.5,763.2 627.1,766.1 625.3,768.4C623.5,770.7 620,772.4 617.3,774.1C614.7,775.8 611.7,776.9 609.4,778.6C607.1,780.3 604.9,782.2 603.5,784.3C602.1,786.4 601.8,788.5 601.2,791.1C600.6,793.7 601.2,796.9 599.9,799.9C598.5,802.9 594.4,805.6 593.1,809C591.7,812.4 591.2,817 591.9,820.4C592.7,823.8 594.8,827.4 597.6,829.4C600.4,831.5 605.5,832.5 608.9,832.8C612.3,833.2 615.7,830.8 618,831.7C620.3,832.6 621.4,835.9 622.6,838.5C623.7,841.2 624.1,844.3 624.8,847.6C625.6,850.9 627.1,858.5 627.1,858.5C627.1,858.5 438.7,858.5 438.7,858.5C438.7,858.5 438.7,765.2 438.7,765.2Z" fill="#234b9f"/>
<path d="M542,790.9C543.4,789.6 547.1,788.5 549.9,788.6C552.8,788.7 556.4,790.3 559,791.5C561.6,792.8 564.6,794.4 565.4,796.1C566.1,797.8 565.4,800.3 563.5,801.7C561.7,803.1 557.5,804.7 554.5,804.5C551.4,804.3 547.6,802 545.4,800.6C543.2,799.2 541.9,797.7 541.3,796.1C540.7,794.4 540.6,792.1 542,790.9Z" fill="#2165ab"/>
<path d="M445.5,858.5C445.5,858.5 444,846 444.4,840.3C444.8,834.7 446.5,827.5 447.8,824.4C449.1,821.4 450.5,821.8 452.3,822.2C454.2,822.5 456.5,825.4 459.2,826.7C461.8,828 466,829.2 468.2,830.1C470.5,831.1 472.8,830.7 472.8,832.4C472.8,834.1 469.4,837.5 468.2,840.3C467.1,843.2 466,846.4 466,849.4C466,852.4 468.2,858.5 468.2,858.5C468.2,858.5 445.5,858.5 445.5,858.5Z" fill="#22328f"/>
<path d="M484.3,800.6C484.3,801.5 484,802.5 483.4,803.1C482.9,803.8 481.9,804.5 481.1,804.7C480.2,805 479,805 478.1,804.7C477.2,804.5 476.3,803.8 475.7,803.1C475.2,802.5 474.8,801.5 474.8,800.6C474.8,799.8 475.2,798.8 475.7,798.1C476.3,797.4 477.2,796.8 478.1,796.5C479,796.2 480.2,796.2 481.1,796.5C481.9,796.8 482.9,797.4 483.4,798.1C484,798.8 484.3,799.8 484.3,800.6Z" fill="#22328f"/>
<path d="M552.4,753.2C554.3,750.5 558.8,748.9 562.4,746.8C566,744.7 570.8,742.5 574,740.5C577.2,738.5 579.2,735.7 581.7,734.8C584.2,733.9 585.7,734.6 588.7,735.3C591.8,735.9 596.3,737.1 600.1,738.7C603.9,740.2 608.9,742.4 611.7,744.6C614.4,746.7 615.9,749.1 616.7,751.4C617.4,753.6 617,756.5 616.2,758.2C615.4,759.9 614.3,760.1 611.7,761.6C609,763.1 603.6,765.5 600.1,767.3C596.6,769 593.1,770.3 590.8,772.2C588.5,774.2 587.8,776.8 586.2,779.1C584.7,781.3 583.4,784.3 581.7,785.9C580,787.4 578.3,789 576,788.6C573.8,788.2 570.9,785.2 568.1,783.6C565.3,782 561.5,780.9 559,779.1C556.6,777.2 554.7,774.9 553.3,772.2C552,769.6 551.2,766.3 551.1,763.2C550.9,760 550.5,755.9 552.4,753.2Z" fill="#22328f"/>
<path d="M568.1,755.2C568.6,753 569.6,749.4 571.5,747.3C573.4,745.2 576.2,743.6 579.4,742.7C582.7,741.9 587,741.9 590.8,742.3C594.6,742.7 599.1,743.6 602.1,745C605.2,746.4 607.9,748.6 608.9,750.7C610,752.8 609.6,755.4 608.5,757.5C607.3,759.6 604.7,761.5 602.1,763.2C599.6,764.8 596.5,766.3 593.1,767.3C589.6,768.2 585.1,769.1 581.7,768.8C578.3,768.5 574.8,766.8 572.6,765.4C570.4,764.1 569.3,762.6 568.5,760.9C567.8,759.2 567.6,757.5 568.1,755.2Z" fill="#102369"/>
<path d="M577.2,754.1C577.7,752.2 580.4,749.5 582.8,748.4C585.3,747.3 589.1,746.9 591.9,747.3C594.8,747.7 598.3,749.2 599.9,750.7C601.4,752.2 601.8,754.7 601,756.4C600.2,758.1 597.8,759.8 595.3,760.9C592.9,762 588.9,762.9 586.2,762.7C583.6,762.5 580.9,761.2 579.4,759.8C577.9,758.3 576.6,756 577.2,754.1Z" fill="#081d58"/>
<g fill="none" stroke="#000" stroke-width="1.5" stroke-linecap="round">
<path d="M604.9,719.6C605.7,719.8 608.1,720.5 610.1,720.7C612.1,721 615.4,720.2 616.9,721.2C618.4,722.2 618,725 619.1,726.9C620.3,728.7 622.2,730.4 623.7,732.5C625.2,734.6 627.7,736.9 628.2,739.3C628.7,741.8 626.4,744.8 626.6,747.3C626.8,749.7 629.3,752.1 629.4,754.1C629.4,756.1 628.6,757.9 627.1,759.1C625.6,760.2 622.9,760.2 620.3,760.9C617.6,761.6 614.2,762.2 611.2,763.2C608.2,764.1 605.2,765.2 602.1,766.6C599.1,767.9 595.7,769.4 593.1,771.1C590.4,772.8 587.9,774.7 586.2,776.8C584.5,778.9 584.2,781.4 582.8,783.6C581.5,785.8 579.6,788.8 578.3,789.9C577,791.1 576.2,791.1 574.9,790.4C573.6,789.7 571.9,787.2 570.4,785.9C568.8,784.5 567.7,783.4 565.8,782.5C563.9,781.5 561.7,780.9 559,780.2C556.4,779.4 553,778.9 549.9,777.9C546.9,777 543.9,775.6 540.9,774.5C537.8,773.4 534.6,772.4 531.8,771.1C528.9,769.8 526.1,768.3 523.8,766.6C521.6,764.9 519.6,763 518.2,760.9C516.8,758.8 516,756.4 515.4,754.1C514.9,751.8 515.4,749.4 514.8,747.3C514.1,745.2 512.4,743.5 511.4,741.6C510.3,739.7 508.6,737.8 508.4,735.9C508.2,734 509,732 510.2,730.3C511.5,728.6 513.4,727 515.9,725.7C518.3,724.4 522.3,723.8 525,722.3C527.6,720.8 529.5,718.5 531.8,716.6C534,714.8 536.3,712.6 538.6,711C540.9,709.3 543.1,707.8 545.4,706.9C547.7,705.9 549.6,705.4 552.2,705.3C554.8,705.1 558.3,706.2 561.3,706C564.3,705.8 567.7,704.5 570.4,704.2C573,703.8 576,703.8 577.2,703.7"/>
<path d="M562.4,724.6C563.7,724.5 567.5,723.8 570.4,724.1C573.2,724.5 576.6,725.5 579.4,726.9C582.3,728.3 585.4,730.3 587.4,732.5C589.3,734.8 590.7,738 591.2,740.5C591.8,742.9 591.6,745 590.8,747.3C590,749.5 588.1,752.2 586.2,754.1C584.4,756 582.1,757.4 579.4,758.6C576.8,759.8 573.4,760.9 570.4,761.4C567.3,761.8 564.3,761.9 561.3,761.4C558.3,760.8 555,759.8 552.2,758.2C549.4,756.6 546.3,754 544.3,751.8C542.2,749.6 540.5,746.1 539.7,745"/>
<path d="M494.1,756.6C494.1,757.5 493.7,758.5 493,759.3C492.3,760 491.1,760.6 490,760.9C488.9,761.2 487.5,761.2 486.4,760.9C485.3,760.6 484.1,760 483.4,759.3C482.8,758.5 482.3,757.5 482.3,756.6C482.3,755.7 482.8,754.6 483.4,753.9C484.1,753.2 485.3,752.5 486.4,752.3C487.5,752 488.9,752 490,752.3C491.1,752.5 492.3,753.2 493,753.9C493.7,754.6 494.1,755.7 494.1,756.6Z"/>
<path d="M622.2,814.4C622,815.5 621,816.7 619.7,817.5C618.4,818.2 616.3,818.7 614.4,818.7C612.5,818.7 610.1,818.3 608.3,817.6C606.6,817 604.8,815.8 603.8,814.7C602.8,813.5 602.3,812 602.5,810.9C602.7,809.8 603.7,808.5 605,807.8C606.3,807.1 608.4,806.6 610.3,806.6C612.2,806.5 614.6,807 616.4,807.6C618.1,808.3 619.9,809.5 620.9,810.6C621.9,811.7 622.4,813.2 622.2,814.4Z"/>
<path d="M635.5,823.8C635.5,824.6 635.2,825.5 634.9,826.2C634.5,826.8 633.9,827.4 633.3,827.6C632.7,827.9 631.9,827.9 631.3,827.6C630.7,827.4 630.1,826.8 629.7,826.2C629.4,825.5 629.1,824.6 629.1,823.8C629.1,823 629.4,822 629.7,821.4C630.1,820.7 630.7,820.1 631.3,819.9C631.9,819.6 632.7,819.6 633.3,819.9C633.9,820.1 634.5,820.7 634.9,821.4C635.2,822 635.5,823 635.5,823.8Z"/>
</g>
<text transform="translate(592.6,709.2) rotate(35)" font-size="12.5" text-anchor="middle" dy="4.5" fill="#000">10</text>
<text transform="translate(545.8,731.8) rotate(-35)" font-size="12.5" text-anchor="middle" dy="4.5" fill="#000">20</text>
</g>
<rect x="441.3" y="626.6" width="251.5" height="228.0" fill="none" stroke="#000" stroke-width="1.3"/>
<line x1="441.3" y1="854.6" x2="441.3" y2="861.0" stroke="#000" stroke-width="1.3"/>
<text x="441.3" y="879.4" font-size="16.9" text-anchor="middle" stroke="#000" stroke-width="0.25" >-50</text>
<line x1="434.9" y1="854.6" x2="441.3" y2="854.6" stroke="#000" stroke-width="1.3"/>
<line x1="504.2" y1="854.6" x2="504.2" y2="861.0" stroke="#000" stroke-width="1.3"/>
<text x="504.2" y="879.4" font-size="16.9" text-anchor="middle" stroke="#000" stroke-width="0.25" >-25</text>
<line x1="434.9" y1="797.6" x2="441.3" y2="797.6" stroke="#000" stroke-width="1.3"/>
<line x1="567.0" y1="854.6" x2="567.0" y2="861.0" stroke="#000" stroke-width="1.3"/>
<text x="567.0" y="879.4" font-size="16.9" text-anchor="middle" stroke="#000" stroke-width="0.25" >0</text>
<line x1="434.9" y1="740.6" x2="441.3" y2="740.6" stroke="#000" stroke-width="1.3"/>
<line x1="629.9" y1="854.6" x2="629.9" y2="861.0" stroke="#000" stroke-width="1.3"/>
<text x="629.9" y="879.4" font-size="16.9" text-anchor="middle" stroke="#000" stroke-width="0.25" >25</text>
<line x1="434.9" y1="683.6" x2="441.3" y2="683.6" stroke="#000" stroke-width="1.3"/>
<line x1="692.8" y1="854.6" x2="692.8" y2="861.0" stroke="#000" stroke-width="1.3"/>
<text x="692.8" y="879.4" font-size="16.9" text-anchor="middle" stroke="#000" stroke-width="0.25" >50</text>
<line x1="434.9" y1="626.6" x2="441.3" y2="626.6" stroke="#000" stroke-width="1.3"/>
<text x="440.7" y="615.6" font-size="17.1" text-anchor="start" stroke="#000" stroke-width="0.25" >(c) High-Low-Compact (II)</text>
<text x="567.0" y="902.9" font-size="17.1" text-anchor="middle" stroke="#000" stroke-width="0.25" >Distance (W-E, km)</text>
<clipPath id="pcd"><rect x="743.8" y="626.6" width="251.7" height="228.0"/></clipPath>
<g clip-path="url(#pcd)">
<rect x="743.8" y="626.6" width="251.7" height="228.0" fill="#2b9fc2"/>
<path d="M759.9,624.7C759.9,624.7 946,624.7 946,624.7C946,624.7 946.7,631.2 948.2,633.8C949.8,636.5 953.2,638 955.1,640.6C956.9,643.3 958.6,645.9 959.6,649.7C960.5,653.5 960.7,658.4 960.7,663.3C960.7,668.2 960.2,674.3 959.6,679.2C959,684.1 958.8,689.8 957.3,692.8C955.8,695.8 953.2,697.4 950.5,697.4C947.9,697.4 944.1,694.3 941.4,692.8C938.8,691.3 937.3,688.7 934.6,688.3C932,687.9 928.6,690.4 925.6,690.5C922.5,690.7 919.5,690.5 916.5,689.4C913.5,688.3 910,685.4 907.4,683.7C904.8,682 902.9,680.5 900.6,679.2C898.3,677.9 895.7,678.1 893.8,675.8C891.9,673.5 890.2,669.2 889.2,665.6C888.3,662 889.1,656.5 888.1,654.2C887.2,652 884.9,651.2 883.6,652C882.2,652.7 881.1,655.7 880.2,658.8C879.2,661.8 879,667.1 877.9,670.1C876.8,673.1 875.2,675.2 873.4,676.9C871.5,678.6 868.8,678.8 866.5,680.3C864.3,681.8 862,683.9 859.7,686C857.5,688.1 855.2,690.5 852.9,692.8C850.7,695.1 848.8,697.5 846.1,699.6C843.5,701.7 840.1,703.6 837,705.3C834,707 830.6,707.9 828,709.8C825.3,711.7 822.9,714.6 821.2,716.6C819.5,718.7 819.1,722.1 817.8,722.3C816.4,722.5 814,720.4 813.2,717.8C812.5,715.1 813.4,710.6 813.2,706.4C813,702.3 813,697 812.1,692.8C811.1,688.7 809.4,684.5 807.5,681.5C805.7,678.4 803,677.3 800.7,674.7C798.5,672 796.6,668.6 793.9,665.6C791.3,662.6 788.3,658.8 784.8,656.5C781.4,654.2 776.9,653.1 773.5,652C770.1,650.8 766.5,651.6 764.4,649.7C762.3,647.8 761.8,644.8 761,640.6C760.3,636.5 759.9,624.7 759.9,624.7Z" fill="#1e85ba"/>
<path d="M741.7,681.5C741.7,681.5 749.3,682.6 753.1,683.7C756.9,684.9 760.3,686.8 764.4,688.3C768.6,689.8 773.5,691.3 778,692.8C782.6,694.3 788.4,695.1 791.7,697.4C794.9,699.6 796.8,703.4 797.3,706.4C797.9,709.5 796.6,712.9 795.1,715.5C793.5,718.2 789.8,720 788.3,722.3C786.7,724.6 785.8,726.5 786,729.1C786.2,731.8 788.1,735.2 789.4,738.2C790.7,741.2 793.4,743.9 793.9,747.3C794.5,750.7 793.7,755.2 792.8,758.6C791.8,762 789.2,765.1 788.3,767.7C787.3,770.4 786.4,773 787.1,774.5C787.9,776 790.1,776.8 792.8,776.8C795.4,776.8 799.4,775.6 803,774.5C806.6,773.4 811.3,770.7 814.4,770C817.4,769.2 818.9,768.8 821.2,770C823.4,771.1 825.7,774.1 828,776.8C830.2,779.4 832.9,782.8 834.8,785.9C836.7,788.9 837.4,792.3 839.3,794.9C841.2,797.6 843.1,799.9 846.1,801.7C849.2,803.6 854.1,804.8 857.5,806.3C860.9,807.8 863.9,809.3 866.5,810.8C869.2,812.3 871.1,815.4 873.4,815.4C875.6,815.4 877.5,812.3 880.2,810.8C882.8,809.3 886.2,807 889.2,806.3C892.3,805.5 896.4,804.8 898.3,806.3C900.2,807.8 899.8,812 900.6,815.4C901.3,818.8 901.9,823.7 902.9,826.7C903.8,829.7 906.3,831.2 906.3,833.5C906.3,835.8 904.9,838.4 902.9,840.3C900.8,842.2 896.8,844.5 893.8,844.9C890.8,845.2 887.4,842.6 884.7,842.6C882.1,842.6 880.2,843.7 877.9,844.9C875.6,846 872.8,847.1 871.1,849.4C869.4,851.7 867.7,858.5 867.7,858.5C867.7,858.5 741.7,858.5 741.7,858.5C741.7,858.5 741.7,681.5 741.7,681.5Z" fill="#1e85ba"/>
<path d="M741.7,722.3C741.7,722.3 748.2,723.3 750.8,724.6C753.5,725.9 756.3,728.4 757.6,730.3C758.9,732.2 759.1,733.9 758.8,735.9C758.4,738 756.9,740.8 755.3,742.7C753.8,744.6 751.9,746.3 749.7,747.3C747.4,748.2 741.7,748.4 741.7,748.4C741.7,748.4 741.7,722.3 741.7,722.3Z" fill="#2b9fc2"/>
<path d="M792.8,858.5C792.8,858.5 793.7,848.1 795.1,844.9C796.4,841.6 798.3,840.7 800.7,839.2C803.2,837.7 807.5,837.9 809.8,835.8C812.1,833.7 812.8,829 814.4,826.7C815.9,824.4 817.2,822.4 818.9,822.2C820.6,822 823.2,823.7 824.6,825.6C825.9,827.5 827,830.7 826.8,833.5C826.6,836.4 824.4,838.4 823.4,842.6C822.5,846.8 821.2,858.5 821.2,858.5C821.2,858.5 792.8,858.5 792.8,858.5Z" fill="#2b9fc2"/>
<path d="M812.1,806.3C813.2,805.1 816.8,803.8 818.9,804C821,804.2 823.8,806.1 824.6,807.4C825.3,808.7 824.8,810.9 823.4,812C822.1,813 818.5,813.7 816.6,813.5C814.7,813.4 812.8,812 812.1,810.8C811.3,809.6 810.9,807.4 812.1,806.3Z" fill="#2b9fc2"/>
<path d="M923.3,858.5C923.3,858.5 921.8,844.9 922.1,840.3C922.5,835.8 923.9,833.1 925.6,831.2C927.3,829.4 929.7,828.6 932.4,829C935,829.4 938.4,831.6 941.4,833.5C944.5,835.4 947.1,838.6 950.5,840.3C953.9,842 958.5,842.6 961.9,843.7C965.3,844.9 968.3,844.7 970.9,847.1C973.6,849.6 977.8,858.5 977.8,858.5C977.8,858.5 923.3,858.5 923.3,858.5Z" fill="#1e85ba"/>
<path d="M980,624.7C980,624.7 981.3,634.6 981.2,638.3C981,642.1 978.3,644.8 978.9,647.4C979.5,650.1 981.3,652.5 984.6,654.2C987.8,655.9 998.2,657.6 998.2,657.6C998.2,657.6 998.2,624.7 998.2,624.7C998.2,624.7 980,624.7 980,624.7Z" fill="#1e85ba"/>
<path d="M859.8,732.8C861.3,731.5 865.1,730.5 867.7,729.8C870.4,729.2 873,728.9 875.7,728.8C878.3,728.8 881,729.2 883.7,729.3C886.3,729.5 889,729.6 891.6,729.8C894.3,730.1 896.9,730 899.6,730.8C902.2,731.7 905.4,733 907.5,734.8C909.7,736.6 911.7,739.6 912.5,741.8C913.3,743.9 913.2,745.8 912.5,747.7C911.8,749.7 910.2,751.9 908.5,753.7C906.9,755.5 904.5,757.4 902.6,758.7C900.6,760 898.7,761.1 896.6,761.7C894.4,762.2 892.1,762.2 889.6,762.2C887.1,762.2 884,761.9 881.7,761.7C879.3,761.4 877.2,761.7 875.7,760.7C874.2,759.7 874,757 872.7,755.7C871.4,754.4 869.6,753.7 867.7,752.7C865.9,751.7 863.3,751.2 861.8,749.7C860.3,748.2 859.3,745.8 858.8,743.8C858.3,741.8 858.6,739.6 858.8,737.8C859,736 858.3,734.1 859.8,732.8Z" fill="#1e85ba"/>
<path d="M796.2,638.3C797.1,636.5 800,633.6 803,632.7C806,631.7 810.6,631.9 814.4,632.7C818.1,633.4 823.1,635.5 825.7,637.2C828.3,638.9 829.8,640.8 829.8,642.9C829.8,645 827.1,647 825.7,649.7C824.3,652.3 822.7,656.3 821.2,658.8C819.6,661.2 818.5,663.5 816.6,664.4C814.7,665.4 811.7,665.4 809.8,664.4C807.9,663.5 806.6,661.2 805.3,658.8C804,656.3 803.2,652.2 801.9,649.7C800.5,647.2 798.3,645.9 797.3,644C796.4,642.1 795.3,640.2 796.2,638.3Z" fill="#2165ab"/>
<path d="M900.6,645.2C901.2,642.7 903.4,641.9 905.1,641.8C906.8,641.6 909.5,642.3 910.8,644C912.1,645.7 911.7,649.1 913.1,652C914.4,654.8 916.3,658.6 918.7,661C921.2,663.5 925.2,665.4 927.8,666.7C930.5,668 933.3,667.5 934.6,669C936,670.5 936.1,673.7 935.8,675.8C935.4,677.9 934.1,680.5 932.4,681.5C930.7,682.4 928.2,682.2 925.6,681.5C922.9,680.7 919.5,679.2 916.5,676.9C913.5,674.7 909.9,671.3 907.4,667.8C904.9,664.4 902.9,660.3 901.7,656.5C900.6,652.7 900,647.6 900.6,645.2Z" fill="#2165ab"/>
<path d="M838.2,694.6C838.2,695.5 837.8,696.6 837.2,697.3C836.7,698 835.7,698.7 834.7,698.9C833.8,699.2 832.6,699.2 831.6,698.9C830.7,698.7 829.7,698 829.1,697.3C828.6,696.6 828.2,695.5 828.2,694.6C828.2,693.7 828.6,692.7 829.1,692C829.7,691.2 830.7,690.6 831.6,690.3C832.6,690 833.8,690 834.7,690.3C835.7,690.6 836.7,691.2 837.2,692C837.8,692.7 838.2,693.7 838.2,694.6Z" fill="#2165ab"/>
<path d="M780.3,712.8C780.3,714 779.7,715.4 778.8,716.4C777.9,717.4 776.3,718.2 774.8,718.6C773.3,719 771.4,719 769.9,718.6C768.4,718.2 766.9,717.4 765.9,716.4C765,715.4 764.4,714 764.4,712.8C764.4,711.6 765,710.2 765.9,709.2C766.9,708.2 768.4,707.3 769.9,707C771.4,706.6 773.3,706.6 774.8,707C776.3,707.3 777.9,708.2 778.8,709.2C779.7,710.2 780.3,711.6 780.3,712.8Z" fill="#2165ab"/>
<path d="M759.9,818.8C759.7,816.5 762.2,813.7 764.4,812C766.7,810.3 770.1,808.7 773.5,808.6C776.9,808.4 781.6,809.5 784.8,810.8C788.1,812.1 791.3,814.6 792.8,816.5C794.3,818.4 794.9,820.5 793.9,822.2C793,823.9 790.1,825.8 787.1,826.7C784.1,827.7 779.4,828 775.8,827.8C772.2,827.7 768.2,827.1 765.6,825.6C762.9,824.1 760.1,821 759.9,818.8Z" fill="#2165ab"/>
<path d="M770.1,762.7C770.1,763.2 769.9,763.9 769.7,764.3C769.4,764.7 769,765.1 768.5,765.3C768.1,765.5 767.6,765.5 767.1,765.3C766.7,765.1 766.3,764.7 766,764.3C765.7,763.9 765.6,763.2 765.6,762.7C765.6,762.2 765.7,761.5 766,761.1C766.3,760.7 766.7,760.3 767.1,760.1C767.6,760 768.1,760 768.5,760.1C769,760.3 769.4,760.7 769.7,761.1C769.9,761.5 770.1,762.2 770.1,762.7Z" fill="#2165ab"/>
<path d="M772.4,776.8C772.4,777.6 772.1,778.5 771.7,779.2C771.3,779.8 770.6,780.4 770,780.7C769.4,780.9 768.5,780.9 767.9,780.7C767.3,780.4 766.6,779.8 766.2,779.2C765.8,778.5 765.6,777.6 765.6,776.8C765.6,776 765.8,775 766.2,774.4C766.6,773.7 767.3,773.1 767.9,772.9C768.5,772.6 769.4,772.6 770,772.9C770.6,773.1 771.3,773.7 771.7,774.4C772.1,775 772.4,776 772.4,776.8Z" fill="#2165ab"/>
<path d="M746.3,656.5C746.3,657.1 746.1,657.9 745.8,658.4C745.6,658.9 745.1,659.3 744.7,659.5C744.3,659.7 743.3,659.5 743.3,659.5C743.3,659.5 742.2,658.4 742.2,658.4C742.2,658.4 741.7,656.5 741.7,656.5C741.7,656.5 742.2,654.6 742.2,654.6C742.2,654.6 743.3,653.5 743.3,653.5C743.3,653.5 744.3,653.3 744.7,653.5C745.1,653.7 745.6,654.1 745.8,654.6C746.1,655.1 746.3,655.9 746.3,656.5Z" fill="#2165ab"/>
<path d="M746.3,790.4C746.3,791.5 746.1,792.8 745.8,793.7C745.6,794.6 745.1,795.5 744.7,795.8C744.3,796.1 743.3,795.8 743.3,795.8C743.3,795.8 742.2,793.7 742.2,793.7C742.2,793.7 741.7,790.4 741.7,790.4C741.7,790.4 742.2,787.1 742.2,787.1C742.2,787.1 743.3,785 743.3,785C743.3,785 744.3,784.7 744.7,785C745.1,785.3 745.6,786.2 745.8,787.1C746.1,788 746.3,789.3 746.3,790.4Z" fill="#2165ab"/>
<path d="M834.8,858.5C834.8,858.5 834.8,848.1 835.9,844.9C837,841.6 839.9,839.6 841.6,839.2C843.3,838.8 845.3,839.4 846.1,842.6C847,845.8 846.6,858.5 846.6,858.5C846.6,858.5 834.8,858.5 834.8,858.5Z" fill="#2165ab"/>
<path d="M880.7,755.7C880.5,754.7 883.2,753.2 884.6,751.7C886.1,750.2 888.5,748.4 889.6,746.7C890.8,745.1 891.6,743.4 891.6,741.8C891.6,740.1 890.6,738.3 889.6,736.8C888.6,735.3 885.6,733.8 885.6,732.8C885.6,731.8 888.1,730.8 889.6,730.8C891.1,730.8 893.3,731.7 894.6,732.8C895.9,734 896.9,736 897.6,737.8C898.2,739.6 898.6,741.8 898.6,743.8C898.6,745.8 898.1,748.1 897.6,749.7C897.1,751.4 896.6,752.6 895.6,753.7C894.6,754.8 893.3,755.5 891.6,756.2C890,756.9 887.5,757.8 885.6,757.7C883.8,757.6 880.8,756.7 880.7,755.7Z" fill="#2165ab"/>
<path d="M998.2,673.5C998.2,673.5 988.7,673.7 984.6,675.8C980.4,677.9 975.9,682.8 973.2,686C970.6,689.2 970.6,692.4 968.7,695.1C966.8,697.7 964.5,700 961.9,701.9C959.2,703.8 955.8,705.5 952.8,706.4C949.8,707.4 946.4,708.1 943.7,707.6C941.1,707 939.5,704 936.9,703C934.3,702.1 930.3,701.5 927.8,701.9C925.4,702.3 923.3,703.8 922.1,705.3C921,706.8 920.1,709.5 921,711C922,712.5 925.2,713.8 927.8,714.4C930.5,714.9 934.6,713.8 936.9,714.4C939.2,714.9 941.4,716.5 941.4,717.8C941.4,719.1 938.8,720.8 936.9,722.3C935,723.8 932,725 930.1,726.9C928.2,728.7 925.6,731.4 925.6,733.7C925.6,735.9 929,737.8 930.1,740.5C931.2,743.1 932.7,746.9 932.4,749.5C932,752.2 930.1,754.5 927.8,756.4C925.6,758.2 922.1,759.4 918.7,760.9C915.3,762.4 910.8,764.3 907.4,765.4C904,766.6 901.3,767.7 898.3,767.7C895.3,767.7 892.3,765.1 889.2,765.4C886.2,765.8 882.8,768.1 880.2,770C877.5,771.9 875.6,774.1 873.4,776.8C871.1,779.4 867.7,783.2 866.5,785.9C865.4,788.5 865.4,790.8 866.5,792.7C867.7,794.6 870.7,796.3 873.4,797.2C876,798.2 879.8,798.7 882.4,798.3C885.1,798 887.4,797 889.2,794.9C891.1,792.9 891.9,788.3 893.8,785.9C895.7,783.4 898.7,780.6 900.6,780.2C902.5,779.8 904,781.5 905.1,783.6C906.3,785.7 906.3,789.6 907.4,792.7C908.5,795.7 910.4,798.7 911.9,801.7C913.5,804.8 914.6,808.2 916.5,810.8C918.4,813.5 920.6,815.4 923.3,817.6C925.9,819.9 929,822.5 932.4,824.4C935.8,826.3 940.3,827.8 943.7,829C947.1,830.1 949,830.5 952.8,831.2C956.6,832 961.9,832.8 966.4,833.5C970.9,834.3 976.2,834.7 980,835.8C983.8,836.9 986.1,838.8 989.1,840.3C992.1,841.8 998.2,844.9 998.2,844.9C998.2,844.9 998.2,673.5 998.2,673.5Z" fill="#40b5c4"/>
<path d="M838.2,724.6C838.2,722.1 840.1,718.3 841.6,716.6C843.1,714.9 845.4,714.2 847.3,714.4C849.2,714.6 851.6,716.1 852.9,717.8C854.3,719.5 855.2,722.5 855.2,724.6C855.2,726.7 854.3,728.7 852.9,730.3C851.6,731.8 849.2,733.5 847.3,733.7C845.4,733.9 843.1,732.9 841.6,731.4C840.1,729.9 838.2,727 838.2,724.6Z" fill="#40b5c4"/>
<path d="M770.1,670.1C770.9,669.2 773.7,667.9 775.8,667.8C777.9,667.8 781.3,668.9 782.6,669.7C783.9,670.4 784.5,671.6 783.7,672.4C783,673.1 780.1,674.1 778,674.2C776,674.3 772.6,673.8 771.2,673.1C769.9,672.4 769.3,671 770.1,670.1Z" fill="#67c4be"/>
<path d="M832.5,743.4C832.5,743.8 832.3,744.2 832.1,744.5C831.8,744.8 831.4,745 830.9,745.1C830.5,745.3 830,745.3 829.5,745.1C829.1,745 828.7,744.8 828.4,744.5C828.1,744.2 828,743.8 828,743.4C828,743.1 828.1,742.6 828.4,742.4C828.7,742.1 829.1,741.8 829.5,741.7C830,741.6 830.5,741.6 830.9,741.7C831.4,741.8 831.8,742.1 832.1,742.4C832.3,742.6 832.5,743.1 832.5,743.4Z" fill="#67c4be"/>
<path d="M867.7,858.5C867.7,858.5 869,850.5 871.1,848.3C873.2,846.1 877.8,845.1 880.2,845.3C882.5,845.5 885.2,847.2 885.2,849.4C885.2,851.6 880.2,858.5 880.2,858.5C880.2,858.5 867.7,858.5 867.7,858.5Z" fill="#40b5c4"/>
<path d="M998.2,692.8C998.2,692.8 988.3,693.6 984.6,695.1C980.8,696.6 978.1,699.2 975.5,701.9C972.8,704.5 971.3,708.3 968.7,711C966,713.6 961.9,715.1 959.6,717.8C957.3,720.4 955.6,723.8 955.1,726.9C954.5,729.9 955.4,733.3 956.2,735.9C956.9,738.6 959.4,740.1 959.6,742.7C959.8,745.4 957.5,748.8 957.3,751.8C957.1,754.8 957.7,758.2 958.5,760.9C959.2,763.5 961.7,765.4 961.9,767.7C962.1,770 961.1,772.6 959.6,774.5C958.1,776.4 954.7,779.4 952.8,779.1C950.9,778.7 949.8,774.1 948.2,772.2C946.7,770.4 946,768.8 943.7,767.7C941.4,766.6 937.7,765.4 934.6,765.4C931.6,765.4 928,766.4 925.6,767.7C923.1,769 921,770.7 919.9,773.4C918.7,776 918.2,780.4 918.7,783.6C919.3,786.8 921.4,789.3 923.3,792.7C925.2,796.1 927.8,801.4 930.1,804C932.4,806.7 934.3,808.2 936.9,808.6C939.5,808.9 943.7,808.2 946,806.3C948.2,804.4 949.6,800.2 950.5,797.2C951.5,794.2 950.7,790 951.7,788.1C952.6,786.2 954.9,785.1 956.2,785.9C957.5,786.6 959,789.6 959.6,792.7C960.2,795.7 960,800.6 959.6,804C959.2,807.4 957.3,810.1 957.3,813.1C957.3,816.1 957.7,819.9 959.6,822.2C961.5,824.4 965.3,826.3 968.7,826.7C972.1,827.1 976.6,825.6 980,824.4C983.4,823.3 986.1,821.4 989.1,819.9C992.1,818.4 998.2,815.4 998.2,815.4C998.2,815.4 998.2,692.8 998.2,692.8Z" fill="#67c4be"/>
<path d="M975.5,713.2C977.6,710.2 980.8,706.2 984.6,704.2C988.3,702.1 998.2,700.8 998.2,700.8C998.2,700.8 998.2,740.5 998.2,740.5C998.2,740.5 988.3,741.6 984.6,740.5C980.8,739.3 977.6,736.7 975.5,733.7C973.4,730.6 972.1,725.7 972.1,722.3C972.1,718.9 973.4,716.3 975.5,713.2Z" fill="#40b5c4"/>
<path d="M972.1,783.6C973.6,781.3 975.7,778.3 980,776.8C984.4,775.3 998.2,774.5 998.2,774.5C998.2,774.5 998.2,799.5 998.2,799.5C998.2,799.5 988.3,801.2 984.6,800.6C980.8,800 977.8,797.8 975.5,796.1C973.2,794.4 971.5,792.5 970.9,790.4C970.4,788.3 970.6,785.9 972.1,783.6Z" fill="#40b5c4"/>
<g fill="none" stroke="#000" stroke-width="1.5" stroke-linecap="round">
<path d="M879.9,743.5C879.9,744.9 879.3,746.6 878.5,747.8C877.6,749.1 876.2,750.3 874.7,751C873.1,751.8 871.2,752.2 869.4,752.2C867.7,752.2 865.7,751.8 864.2,751C862.7,750.3 861.3,749.1 860.4,747.8C859.5,746.6 859,744.9 859,743.5C859,742 859.5,740.4 860.4,739.1C861.3,737.8 862.7,736.6 864.2,735.9C865.7,735.2 867.7,734.7 869.4,734.7C871.2,734.7 873.1,735.2 874.7,735.9C876.2,736.6 877.6,737.8 878.5,739.1C879.3,740.4 879.9,742 879.9,743.5Z"/>
<path d="M858.8,755.2C858,754.6 855.1,753.1 853.8,751.7C852.5,750.3 851.3,748.6 850.8,746.7C850.3,744.9 850.3,742.8 850.8,740.8C851.3,738.8 852.3,736.5 853.8,734.8C855.3,733.2 857.6,731.8 859.8,730.8C861.9,729.8 864.4,729.2 866.7,728.8C869.1,728.5 871.4,728.4 873.7,728.6C876,728.9 878.5,729.4 880.7,730.3C882.8,731.3 885.1,732.7 886.6,734.3C888.2,735.9 889.4,738 890.1,739.8C890.9,741.5 891.3,743.1 891.1,744.8C890.9,746.4 890,748.2 889.1,749.7C888.2,751.2 887.1,752.6 885.6,753.7C884.2,754.8 881.1,756 880.2,756.5"/>
<path d="M877.2,724.2C876.4,724 874.5,723.3 872.7,723.4C871,723.4 868.9,723.9 866.7,724.4C864.6,724.9 862.1,725.4 859.8,726.4C857.5,727.3 854.8,728.5 852.8,729.8C850.8,731.2 849.2,732.5 847.8,734.3C846.5,736.1 845.4,738.7 844.9,740.8C844.3,742.8 844.1,744.9 844.4,746.7C844.6,748.6 845.3,750.1 846.4,751.7C847.4,753.3 849.1,754.9 850.8,756.2C852.6,757.5 854.6,758.7 856.8,759.7C859,760.6 861.3,761.4 863.8,761.9C866.2,762.4 869.1,762.6 871.7,762.7C874.4,762.7 877,762.2 879.7,762.2C882.3,762.1 885.3,762.2 887.6,762.5C890,762.7 891.8,763.3 893.6,763.5C895.4,763.6 897.3,763.6 898.6,763.2C899.9,762.7 900.9,761.7 901.4,760.7C901.8,759.6 901.4,757.9 901.1,756.7C900.7,755.5 899.6,754.9 899.1,753.7C898.5,752.5 897.9,751.2 897.8,749.7C897.7,748.2 898.3,746.2 898.6,744.8C898.9,743.3 899.6,741.9 899.6,740.8C899.6,739.6 899.1,738.5 898.6,737.8C898.1,737 896.9,736.6 896.6,736.3"/>
<path d="M880.2,657.6C880.3,659 881.4,662.9 880.8,665.6C880.3,668.2 878.8,671.6 876.8,673.5C874.8,675.4 871.3,676.7 868.8,676.9C866.4,677.2 863.6,675.9 862,675.1C860.4,674.4 859.7,672.8 859.3,672.4"/>
<path d="M797.3,783.6C796.8,785.1 794.6,789.8 794.4,792.7C794.1,795.5 794.5,798.2 795.7,800.6C797,803.1 799.5,806 801.9,807.4C804.2,808.9 807.4,809.4 809.8,809.2C812.3,809 814.4,807.7 816.6,806.3C818.9,804.8 821.5,802.9 823.4,800.6C825.4,798.3 827.4,795.1 828.4,792.7C829.5,790.2 830.4,787.4 829.8,785.9C829.1,784.3 826.6,783.5 824.6,783.1C822.6,782.8 818.9,783.5 817.8,783.6"/>
<path d="M777.6,776.3C777.6,776.8 777.4,777.3 777.2,777.7C776.9,778 776.4,778.3 776,778.5C775.6,778.6 775,778.6 774.6,778.5C774.2,778.3 773.7,778 773.5,777.7C773.2,777.3 773,776.8 773,776.3C773,775.9 773.2,775.4 773.5,775C773.7,774.6 774.2,774.3 774.6,774.2C775,774 775.6,774 776,774.2C776.4,774.3 776.9,774.6 777.2,775C777.4,775.4 777.6,775.9 777.6,776.3Z"/>
<path d="M834.8,834C833.9,835 830.7,837.9 829.8,840.3C828.8,842.7 828.9,845.6 829.1,848.3C829.3,850.9 830.6,854.9 830.9,856.2"/>
<path d="M858.6,834C859.9,834.5 864.3,835.7 866.5,836.9C868.8,838.2 870,840.9 872.2,841.5C874.5,842 878,840.1 880.2,840.3C882.3,840.5 884.4,841.3 885.2,842.6C885.9,843.9 885.7,846.8 884.7,848.3C883.7,849.8 880.5,850.3 879,851.7C877.5,853 876.2,855.5 875.6,856.2"/>
</g>
<text transform="translate(888.1,727.4) rotate(-20)" font-size="12.5" text-anchor="middle" dy="4.5" fill="#000">2</text>
<text transform="translate(869.4,756.9) rotate(0)" font-size="12.5" text-anchor="middle" dy="4.5" fill="#000">5</text>
<text transform="translate(864.3,663.3) rotate(-15)" font-size="12.5" text-anchor="middle" dy="4.5" fill="#000">2</text>
<text transform="translate(805.7,782.0) rotate(8)" font-size="12.5" text-anchor="middle" dy="4.5" fill="#000">2</text>
<text transform="translate(847.3,833.5) rotate(5)" font-size="12.5" text-anchor="middle" dy="4.5" fill="#000">2</text>
<text transform="translate(990.2,848.3) rotate(10)" font-size="12.5" text-anchor="middle" dy="4.5" fill="#000">2</text>
</g>
<rect x="743.8" y="626.6" width="251.7" height="228.0" fill="none" stroke="#000" stroke-width="1.3"/>
<line x1="743.8" y1="854.6" x2="743.8" y2="861.0" stroke="#000" stroke-width="1.3"/>
<text x="743.8" y="879.4" font-size="16.9" text-anchor="middle" stroke="#000" stroke-width="0.25" >-50</text>
<line x1="737.4" y1="854.6" x2="743.8" y2="854.6" stroke="#000" stroke-width="1.3"/>
<line x1="806.7" y1="854.6" x2="806.7" y2="861.0" stroke="#000" stroke-width="1.3"/>
<text x="806.7" y="879.4" font-size="16.9" text-anchor="middle" stroke="#000" stroke-width="0.25" >-25</text>
<line x1="737.4" y1="797.6" x2="743.8" y2="797.6" stroke="#000" stroke-width="1.3"/>
<line x1="869.6" y1="854.6" x2="869.6" y2="861.0" stroke="#000" stroke-width="1.3"/>
<text x="869.6" y="879.4" font-size="16.9" text-anchor="middle" stroke="#000" stroke-width="0.25" >0</text>
<line x1="737.4" y1="740.6" x2="743.8" y2="740.6" stroke="#000" stroke-width="1.3"/>
<line x1="932.6" y1="854.6" x2="932.6" y2="861.0" stroke="#000" stroke-width="1.3"/>
<text x="932.6" y="879.4" font-size="16.9" text-anchor="middle" stroke="#000" stroke-width="0.25" >25</text>
<line x1="737.4" y1="683.6" x2="743.8" y2="683.6" stroke="#000" stroke-width="1.3"/>
<line x1="995.5" y1="854.6" x2="995.5" y2="861.0" stroke="#000" stroke-width="1.3"/>
<text x="995.5" y="879.4" font-size="16.9" text-anchor="middle" stroke="#000" stroke-width="0.25" >50</text>
<line x1="737.4" y1="626.6" x2="743.8" y2="626.6" stroke="#000" stroke-width="1.3"/>
<text x="743.2" y="615.6" font-size="17.1" text-anchor="start" stroke="#000" stroke-width="0.25" >(d) Low-High-Disperse (III)</text>
<text x="869.6" y="902.9" font-size="17.1" text-anchor="middle" stroke="#000" stroke-width="0.25" >Distance (W-E, km)</text>
<text transform="translate(88,740.6) rotate(-90)" font-size="17.1" text-anchor="middle" stroke="#000" stroke-width="0.25">Distance (S-N, km)</text>
<rect x="1017.6" y="836.1" width="10.8" height="17.3" fill="#fafdce"/>
<rect x="1017.6" y="819.1" width="10.8" height="17.3" fill="#eff9b5"/>
<rect x="1017.6" y="802.1" width="10.8" height="17.3" fill="#d9f0b3"/>
<rect x="1017.6" y="785.1" width="10.8" height="17.3" fill="#bde5b5"/>
<rect x="1017.6" y="768.1" width="10.8" height="17.3" fill="#90d4b9"/>
<rect x="1017.6" y="751.1" width="10.8" height="17.3" fill="#67c4be"/>
<rect x="1017.6" y="734.1" width="10.8" height="17.3" fill="#40b5c4"/>
<rect x="1017.6" y="717.1" width="10.8" height="17.3" fill="#2b9fc2"/>
<rect x="1017.6" y="700.1" width="10.8" height="17.3" fill="#1e85ba"/>
<rect x="1017.6" y="683.1" width="10.8" height="17.3" fill="#2165ab"/>
<rect x="1017.6" y="666.1" width="10.8" height="17.3" fill="#234b9f"/>
<rect x="1017.6" y="649.1" width="10.8" height="17.3" fill="#22328f"/>
<rect x="1017.6" y="632.1" width="10.8" height="17.3" fill="#102369"/>
<path d="M1017.6,632.7 L1023.0,620.9 L1028.4,632.7 Z" fill="#081d58"/>
<path d="M1017.6,853.4 L1017.6,632.4 L1023.0,620.9 L1028.4,632.4 L1028.4,853.4 Z" fill="none" stroke="#000" stroke-width="1.3" stroke-linejoin="miter"/>
<line x1="1028.4" y1="853.4" x2="1034.8" y2="853.4" stroke="#000" stroke-width="1.3"/>
<text x="1040.6" y="859.5" font-size="16.9" text-anchor="start" stroke="#000" stroke-width="0.25" >0.0</text>
<line x1="1028.4" y1="819.4" x2="1034.8" y2="819.4" stroke="#000" stroke-width="1.3"/>
<text x="1040.6" y="825.5" font-size="16.9" text-anchor="start" stroke="#000" stroke-width="0.25" >0.4</text>
<line x1="1028.4" y1="785.4" x2="1034.8" y2="785.4" stroke="#000" stroke-width="1.3"/>
<text x="1040.6" y="791.5" font-size="16.9" text-anchor="start" stroke="#000" stroke-width="0.25" >0.8</text>
<line x1="1028.4" y1="751.4" x2="1034.8" y2="751.4" stroke="#000" stroke-width="1.3"/>
<text x="1040.6" y="757.5" font-size="16.9" text-anchor="start" stroke="#000" stroke-width="0.25" >1.2</text>
<line x1="1028.4" y1="717.4" x2="1034.8" y2="717.4" stroke="#000" stroke-width="1.3"/>
<text x="1040.6" y="723.5" font-size="16.9" text-anchor="start" stroke="#000" stroke-width="0.25" >1.6</text>
<line x1="1028.4" y1="683.4" x2="1034.8" y2="683.4" stroke="#000" stroke-width="1.3"/>
<text x="1040.6" y="689.5" font-size="16.9" text-anchor="start" stroke="#000" stroke-width="0.25" >2.0</text>
<line x1="1028.4" y1="649.4" x2="1034.8" y2="649.4" stroke="#000" stroke-width="1.3"/>
<text x="1040.6" y="655.5" font-size="16.9" text-anchor="start" stroke="#000" stroke-width="0.25" >2.4</text>
</svg>
</body></html>
